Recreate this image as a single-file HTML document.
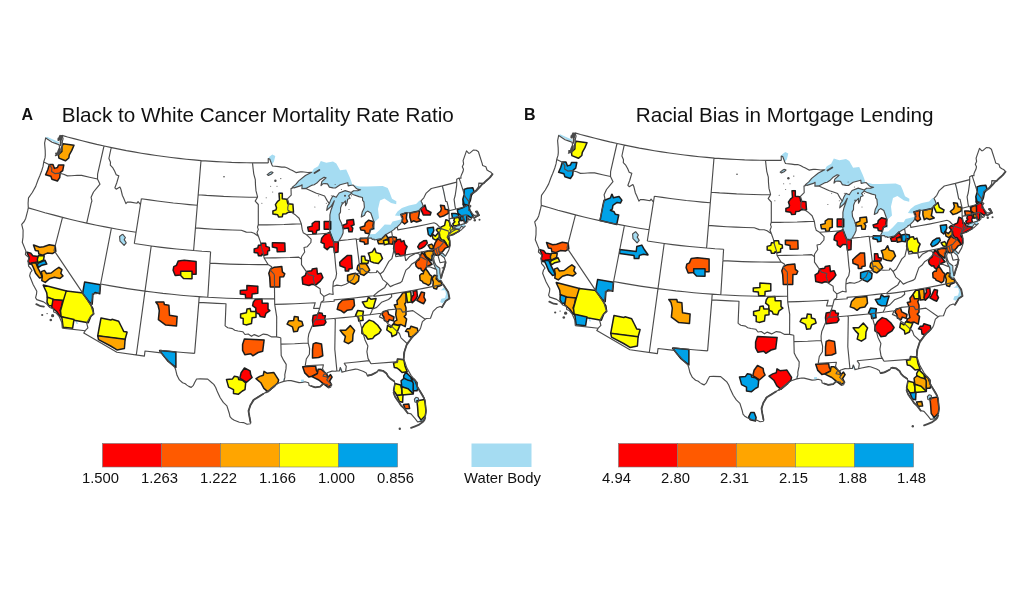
<!DOCTYPE html>
<html><head><meta charset="utf-8"><title>Maps</title>
<style>
html,body{margin:0;padding:0;background:#fff}
body{width:1024px;height:594px;overflow:hidden;font-family:"Liberation Sans",Arial,sans-serif}
svg{display:block}
.lg{font-size:14.8px;fill:#111}
.tt{font-size:20.7px;fill:#111}
.pl{font-size:16px;font-weight:bold;fill:#111}
.st{fill:none;stroke:#4c4c4c;stroke-width:1.15;stroke-linejoin:round}
.dk{fill:none;stroke:#484848;stroke-width:1.8;stroke-linejoin:round;stroke-linecap:round}
.mt path{stroke:#1c1c1c;stroke-width:1.5;stroke-linejoin:round}
</style></head><body>
<svg width="1024" height="594" viewBox="0 0 1024 594" font-family="Liberation Sans, Arial, sans-serif">
<rect width="1024" height="594" fill="#fff"/>
<defs>
<filter id="bl" x="0" y="0" width="1024" height="594" filterUnits="userSpaceOnUse"><feGaussianBlur stdDeviation="0.35"/></filter>
</defs>
<g filter="url(#bl)">
<path d="M292.4 187.1L295.8 184.4L298.7 180.9L305.4 175.5L311.7 172.3L313.8 168.7L318.2 166.2L320.8 160.9L326.3 162.7L333.0 161.5L336.3 163.4L340.1 170.3L346.2 169.6L349.4 176.5L351.1 180.8L352.5 185.2L351.3 185.3L348.2 185.9L347.8 182.7L340.1 184.7L335.4 188.0L333.0 187.9L329.4 187.1L327.5 183.9L325.1 183.6L322.8 183.8L321.0 185.6L321.8 181.6L326.1 177.8L324.1 177.2L319.7 180.1L316.8 183.1L314.1 184.8L312.3 185.1L305.8 188.4L301.9 188.6L302.1 184.7L300.2 185.9L294.0 187.9ZM351.2 192.5L345.2 190.6L339.1 193.0L337.0 196.0L336.3 197.2L332.8 195.9L330.9 199.4L329.3 203.6L327.5 206.0L326.7 210.3L331.2 206.2L334.3 200.8L332.7 205.5L330.8 210.8L329.9 214.9L329.9 218.9L329.1 226.9L330.3 233.1L332.5 239.9L334.2 242.4L335.4 242.6L338.7 241.2L341.6 236.5L343.1 233.0L343.2 228.6L341.6 223.6L339.5 219.1L339.1 214.4L340.5 212.1L340.6 207.8L341.8 204.6L345.5 200.8L345.5 205.7L347.0 202.9L347.7 199.2L350.1 198.3L348.6 195.9L351.3 193.5ZM351.3 193.5L353.5 194.7L359.0 196.6L362.5 197.5L362.6 200.3L363.9 201.9L364.4 207.3L363.7 209.1L362.2 212.1L361.3 216.9L364.5 215.2L365.6 212.5L367.6 211.1L370.8 213.0L372.4 217.5L374.1 222.4L379.0 218.0L378.0 209.0L380.0 200.5L384.4 198.5L391.1 203.0L396.2 204.2L396.4 201.3L392.0 198.8L389.5 192.0L387.7 187.9L382.7 185.9L367.4 186.6L359.4 186.6L353.6 185.1L353.2 185.1L355.6 187.7L357.3 189.1L360.6 189.8L357.6 190.8L353.6 190.7L351.2 192.5ZM373.9 226.8L371.4 228.9L371.2 230.3L375.0 230.1L374.8 227.3ZM367.5 238.1L371.5 238.1L372.3 239.5L374.0 239.0L374.3 240.0L378.6 239.1L382.6 238.2L385.7 234.8L389.4 232.5L391.3 231.4L394.9 228.9L397.3 226.9L400.3 223.8L402.2 221.1L403.2 218.8L399.9 219.8L392.6 221.6L390.6 224.8L384.7 224.6L379.6 230.0L375.2 234.1L370.1 234.3L369.6 233.8ZM400.9 214.9L405.3 212.8L412.8 212.6L417.6 211.5L421.2 208.5L423.3 206.5L422.2 203.3L421.0 200.9L419.5 200.4L416.1 204.0L408.9 205.4L401.9 207.9L397.5 211.5L394.9 215.5L399.2 215.9ZM122.6 234.1L119.6 236.5L120.0 241.2L124.1 245.4L126.2 242.8L124.2 239.6L125.4 237.5ZM442.7 185.8L444.0 191.3L444.6 197.0L445.7 201.4L444.2 197.1L443.3 191.5L442.1 186.0ZM416.2 397.2L418.3 398.0L418.8 400.8L417.6 402.7L414.9 402.0L414.4 399.2ZM268.2 158.6L269.7 159.0L271.8 164.5L273.9 161.7L275.3 156.1L272.3 154.5L269.3 156.7ZM317.4 373.2L320.8 372.4L323.3 373.9L321.0 376.0L317.5 376.0ZM441.1 280.1L438.4 280.7L438.3 280.1L436.8 277.5L436.9 273.4L436.7 270.2L435.6 268.6L434.1 264.7L432.1 258.5L431.3 256.0L434.3 251.3L434.8 253.5L433.6 258.4L434.5 262.3L436.1 265.5L439.8 268.2L439.9 272.8L440.9 278.2ZM444.3 257.8L441.0 255.1L438.9 252.0L438.5 249.8L439.3 251.4L442.9 253.5L445.4 256.1ZM447.5 292.2L448.8 298.3L444.8 301.5L442.3 303.2L440.2 301.9L441.4 298.7L445.0 297.9L446.0 294.2L445.2 290.3L440.5 290.2L438.0 291.8L442.1 289.2L444.0 287.1ZM450.7 230.6L454.1 228.0L456.3 226.3L462.7 224.1L464.7 223.6L465.3 226.1L463.6 227.4L461.5 226.2L459.6 229.0L455.4 229.8L452.3 231.4L450.5 233.0ZM279.6 192.4L281.6 192.3L281.7 194.6L279.3 194.6ZM273.3 381.0L274.8 383.3L273.9 385.0L272.4 383.3ZM340.0 367.5L341.0 367.4L342.3 371.3L340.4 371.7ZM283.1 378.6L284.6 378.6L283.7 380.8ZM324.3 374.4L326.9 375.4L325.5 377.2L323.0 376.2ZM320.9 382.0L322.8 381.3L323.5 383.5L321.5 384.2ZM301.0 379.7L303.9 379.5L304.0 381.8L301.1 381.9ZM397.3 391.6L398.8 391.4L397.9 395.5L396.8 395.1ZM45.7 137.9L50.7 140.3L55.5 142.9L58.9 143.8L59.3 142.2L54.7 140.3L47.0 136.8ZM425.5 412.7L426.4 412.6L426.2 416.6L425.0 416.8ZM418.9 420.0L423.4 418.7L423.7 420.4L420.8 422.0ZM271.4 171.8L273.0 172.6L271.1 174.2L268.4 175.4L267.2 174.6L269.1 173.1ZM74.6 319.5L76.3 320.4L78.1 323.7L76.6 324.0Z" fill="#a5dcf2"/>
<path d="M292.4 187.1L295.8 184.4L298.7 180.9L305.4 175.5L311.7 172.3L313.8 168.7L318.2 166.2L320.8 160.9L326.3 162.7L333.0 161.5L336.3 163.4L340.1 170.3L346.2 169.6L349.4 176.5L351.1 180.8L352.5 185.2L351.3 185.3L348.2 185.9L347.8 182.7L340.1 184.7L335.4 188.0L333.0 187.9L329.4 187.1L327.5 183.9L325.1 183.6L322.8 183.8L321.0 185.6L321.8 181.6L326.1 177.8L324.1 177.2L319.7 180.1L316.8 183.1L314.1 184.8L312.3 185.1L305.8 188.4L301.9 188.6L302.1 184.7L300.2 185.9L294.0 187.9ZM351.2 192.5L345.2 190.6L339.1 193.0L337.0 196.0L336.3 197.2L332.8 195.9L330.9 199.4L329.3 203.6L327.5 206.0L326.7 210.3L331.2 206.2L334.3 200.8L332.7 205.5L330.8 210.8L329.9 214.9L329.9 218.9L329.1 226.9L330.3 233.1L332.5 239.9L334.2 242.4L335.4 242.6L338.7 241.2L341.6 236.5L343.1 233.0L343.2 228.6L341.6 223.6L339.5 219.1L339.1 214.4L340.5 212.1L340.6 207.8L341.8 204.6L345.5 200.8L345.5 205.7L347.0 202.9L347.7 199.2L350.1 198.3L348.6 195.9L351.3 193.5ZM351.3 193.5L353.5 194.7L359.0 196.6L362.5 197.5L362.6 200.3L363.9 201.9L364.4 207.3L363.7 209.1L362.2 212.1L361.3 216.9L364.5 215.2L365.6 212.5L367.6 211.1L370.8 213.0L372.4 217.5L374.1 222.4L379.0 218.0L378.0 209.0L380.0 200.5L384.4 198.5L391.1 203.0L396.2 204.2L396.4 201.3L392.0 198.8L389.5 192.0L387.7 187.9L382.7 185.9L367.4 186.6L359.4 186.6L353.6 185.1L353.2 185.1L355.6 187.7L357.3 189.1L360.6 189.8L357.6 190.8L353.6 190.7L351.2 192.5ZM373.9 226.8L371.4 228.9L371.2 230.3L375.0 230.1L374.8 227.3ZM367.5 238.1L371.5 238.1L372.3 239.5L374.0 239.0L374.3 240.0L378.6 239.1L382.6 238.2L385.7 234.8L389.4 232.5L391.3 231.4L394.9 228.9L397.3 226.9L400.3 223.8L402.2 221.1L403.2 218.8L399.9 219.8L392.6 221.6L390.6 224.8L384.7 224.6L379.6 230.0L375.2 234.1L370.1 234.3L369.6 233.8ZM400.9 214.9L405.3 212.8L412.8 212.6L417.6 211.5L421.2 208.5L423.3 206.5L422.2 203.3L421.0 200.9L419.5 200.4L416.1 204.0L408.9 205.4L401.9 207.9L397.5 211.5L394.9 215.5L399.2 215.9ZM122.6 234.1L119.6 236.5L120.0 241.2L124.1 245.4L126.2 242.8L124.2 239.6L125.4 237.5ZM442.7 185.8L444.0 191.3L444.6 197.0L445.7 201.4L444.2 197.1L443.3 191.5L442.1 186.0ZM416.2 397.2L418.3 398.0L418.8 400.8L417.6 402.7L414.9 402.0L414.4 399.2ZM268.2 158.6L269.7 159.0L271.8 164.5L273.9 161.7L275.3 156.1L272.3 154.5L269.3 156.7ZM317.4 373.2L320.8 372.4L323.3 373.9L321.0 376.0L317.5 376.0ZM441.1 280.1L438.4 280.7L438.3 280.1L436.8 277.5L436.9 273.4L436.7 270.2L435.6 268.6L434.1 264.7L432.1 258.5L431.3 256.0L434.3 251.3L434.8 253.5L433.6 258.4L434.5 262.3L436.1 265.5L439.8 268.2L439.9 272.8L440.9 278.2ZM444.3 257.8L441.0 255.1L438.9 252.0L438.5 249.8L439.3 251.4L442.9 253.5L445.4 256.1ZM447.5 292.2L448.8 298.3L444.8 301.5L442.3 303.2L440.2 301.9L441.4 298.7L445.0 297.9L446.0 294.2L445.2 290.3L440.5 290.2L438.0 291.8L442.1 289.2L444.0 287.1ZM450.7 230.6L454.1 228.0L456.3 226.3L462.7 224.1L464.7 223.6L465.3 226.1L463.6 227.4L461.5 226.2L459.6 229.0L455.4 229.8L452.3 231.4L450.5 233.0ZM279.6 192.4L281.6 192.3L281.7 194.6L279.3 194.6ZM273.3 381.0L274.8 383.3L273.9 385.0L272.4 383.3ZM340.0 367.5L341.0 367.4L342.3 371.3L340.4 371.7ZM283.1 378.6L284.6 378.6L283.7 380.8ZM324.3 374.4L326.9 375.4L325.5 377.2L323.0 376.2ZM320.9 382.0L322.8 381.3L323.5 383.5L321.5 384.2ZM301.0 379.7L303.9 379.5L304.0 381.8L301.1 381.9ZM397.3 391.6L398.8 391.4L397.9 395.5L396.8 395.1ZM45.7 137.9L50.7 140.3L55.5 142.9L58.9 143.8L59.3 142.2L54.7 140.3L47.0 136.8ZM425.5 412.7L426.4 412.6L426.2 416.6L425.0 416.8ZM418.9 420.0L423.4 418.7L423.7 420.4L420.8 422.0ZM271.4 171.8L273.0 172.6L271.1 174.2L268.4 175.4L267.2 174.6L269.1 173.1ZM74.6 319.5L76.3 320.4L78.1 323.7L76.6 324.0Z" fill="#a5dcf2" transform="translate(513.0 -2.5)"/>
<g class="mt">
<path d="M63.1 143.7L61.9 147.1L61.9 151.5L58.4 154.6L58.9 158.1L65.4 160.8L68.8 158.0L69.3 154.9L71.8 150.4L74.0 145.3Z" fill="#ffa500"/>
<path d="M49.4 164.4L47.8 169.8L45.6 174.7L50.9 176.3L51.9 179.3L57.4 181.0L59.7 177.6L60.2 172.6L62.7 170.6L63.8 165.0L58.5 165.0L57.5 167.5L54.5 168.4L53.0 164.4Z" fill="#ff5a00"/>
<path d="M33.5 245.1L35.4 250.5L38.3 251.0L38.8 254.0L42.8 255.1L47.3 253.1L52.4 253.6L55.8 251.4L55.2 245.8L49.3 244.7L43.6 246.7L39.7 247.2L33.6 245.0Z" fill="#ffa500"/>
<path d="M26.9 252.2L29.2 257.7L28.2 261.3L30.0 264.3L32.8 262.7L37.5 262.1L38.1 256.4L32.8 255.8L30.8 253.3L27.0 252.1Z" fill="#ff0000"/>
<path d="M38.4 255.8L37.3 259.2L37.9 262.9L43.6 260.0L44.2 255.8Z" fill="#ffff00"/>
<path d="M38.4 263.0L37.2 264.8L38.5 267.4L41.9 265.2L46.8 264.1L44.9 260.2Z" fill="#00a2e8"/>
<path d="M31.0 262.9L33.3 267.5L35.8 273.6L39.6 277.9L42.3 277.2L40.1 272.2L38.0 268.2L35.9 262.9Z" fill="#ffa500"/>
<path d="M41.3 271.6L42.3 276.4L41.8 280.7L45.3 282.4L49.5 278.8L54.4 277.3L60.0 278.4L63.0 276.0L60.8 273.3L61.9 269.7L58.9 267.3L55.6 269.5L51.2 273.0L46.5 273.5L44.4 270.4Z" fill="#ffa500"/>
<path d="M43.2 285.2L46.7 292.7L47.3 297.3L53.3 300.0L64.4 300.6L66.5 291.1L43.3 285.1Z" fill="#ffff00"/>
<path d="M47.3 297.1L47.0 302.2L48.7 305.7L52.5 305.7L53.2 299.3Z" fill="#ffff00"/>
<path d="M53.0 299.5L51.7 307.3L56.8 311.8L60.3 316.7L62.0 314.1L60.1 310.3L61.3 307.3L62.7 300.5Z" fill="#ff0000"/>
<path d="M66.3 290.9L63.1 301.4L60.5 310.9L61.2 316.9L74.1 320.2L88.3 322.7L90.9 316.2L93.6 313.6L92.9 308.3L83.3 292.9Z" fill="#ffff00"/>
<path d="M61.7 316.7L62.4 321.7L63.1 327.3L72.6 328.2L74.0 319.5Z" fill="#ffff00"/>
<path d="M84.6 282.1L82.6 293.4L89.1 301.8L92.2 304.1L92.2 304.1L92.9 294.7L95.1 292.4L99.8 293.8L100.5 284.7Z" fill="#00a2e8"/>
<path d="M101.0 318.0L97.7 335.9L125.0 339.8L127.1 332.1L123.7 331.4L121.3 326.5L118.7 321.3L112.0 319.3L110.8 320.0Z" fill="#ffff00"/>
<path d="M97.7 335.7L98.5 339.6L110.6 346.0L117.0 349.9L124.4 348.5L125.1 339.2Z" fill="#ffa500"/>
<path d="M178.3 260.9L176.4 265.4L173.8 266.7L173.1 270.2L175.2 275.6L180.8 274.9L181.5 271.8L191.5 271.8L191.5 274.3L196.1 274.3L196.1 261.6L184.3 260.3Z" fill="#ff0000"/>
<path d="M180.7 271.3L180.7 275.4L183.5 278.4L192.0 278.8L192.0 271.3Z" fill="#ffff00"/>
<path d="M155.8 302.0L158.0 305.0L159.3 310.6L158.4 319.6L165.8 325.1L176.5 325.9L177.1 316.5L169.5 315.3L168.9 305.2L164.4 304.5L163.8 301.9L155.8 301.9Z" fill="#ff5a00"/>
<path d="M159.6 350.7L167.6 360.9L175.8 367.4L175.9 367.4L175.9 351.9L159.7 350.6Z" fill="#00a2e8"/>
<path d="M274.4 267.2L270.4 269.2L268.8 273.3L269.7 277.2L270.3 287.0L279.7 287.0L279.9 277.1L283.6 276.8L284.8 273.8L282.4 271.8L281.8 266.6Z" fill="#ff5a00"/>
<path d="M246.9 285.5L246.9 290.0L240.3 290.6L240.3 293.9L245.3 294.5L245.7 298.3L251.9 298.3L252.1 293.9L257.8 293.2L257.8 286.2Z" fill="#ff0000"/>
<path d="M255.3 299.4L253.3 302.2L252.6 305.7L255.8 308.2L255.8 312.7L259.1 314.0L260.3 316.6L264.7 317.3L266.0 313.3L269.9 310.6L268.0 309.1L268.0 303.2L262.2 303.2L262.0 299.0Z" fill="#ff0000"/>
<path d="M247.0 308.9L246.4 312.7L240.6 314.0L240.6 317.8L243.2 318.4L243.2 324.1L246.1 324.9L251.5 323.5L252.1 317.8L256.0 317.2L256.0 311.4L250.8 311.4L250.2 308.6Z" fill="#ffff00"/>
<path d="M244.4 339.1L242.6 344.5L242.6 350.3L244.8 354.7L250.8 353.8L252.8 355.8L258.1 352.5L262.7 351.2L264.1 340.0Z" fill="#ff5a00"/>
<path d="M244.5 368.0L241.1 372.8L239.8 378.2L246.6 382.3L252.1 377.5L250.7 374.7L250.1 370.8Z" fill="#ff0000"/>
<path d="M234.4 376.3L232.5 378.9L226.5 379.6L228.6 387.1L233.5 389.6L233.5 393.5L238.5 394.2L242.4 391.0L245.0 389.7L245.7 382.9L242.3 380.2L238.7 379.6L238.1 377.1Z" fill="#ffff00"/>
<path d="M264.0 371.3L263.3 375.2L259.7 376.4L256.0 378.6L260.8 382.7L263.9 388.4L268.0 391.8L275.3 385.3L277.9 382.7L278.6 379.9L273.9 372.6L266.9 373.2Z" fill="#ffa500"/>
<path d="M294.3 316.6L293.6 320.5L288.7 321.1L287.1 324.2L292.4 326.8L293.7 331.8L297.4 331.3L298.7 327.4L303.1 325.5L301.9 321.4L298.4 320.5L298.2 317.1Z" fill="#ffa500"/>
<path d="M313.2 315.4L312.5 320.2L313.2 326.3L323.9 325.0L326.0 322.2L324.7 318.9L325.4 315.8L322.7 315.4L322.1 313.3L318.4 312.8L317.1 314.8Z" fill="#ff0000"/>
<path d="M313.2 343.9L312.5 349.9L312.5 357.9L318.7 357.5L322.8 355.8L322.2 349.8L321.5 343.9L316.0 342.8Z" fill="#ff5a00"/>
<path d="M302.7 366.7L304.8 372.9L308.8 376.9L312.2 376.3L318.4 373.5L316.3 370.1L315.6 366.0Z" fill="#ff5a00"/>
<path d="M318.1 369.2L317.4 373.5L311.9 376.5L311.9 376.6L318.8 380.0L322.6 383.1L327.9 387.1L331.6 384.9L329.6 381.0L332.1 377.1L330.5 374.6L327.5 377.6L327.0 374.4L321.1 369.2Z" fill="#ff5a00"/>
<path d="M397.5 359.0L396.8 362.3L393.5 362.9L394.3 367.4L397.0 368.0L399.4 369.9L402.1 372.5L407.2 371.8L405.1 366.3L403.8 359.7Z" fill="#ffff00"/>
<path d="M405.9 372.1L403.7 375.8L403.7 378.6L407.1 380.7L411.3 381.4L412.1 378.3Z" fill="#00a2e8"/>
<path d="M404.0 378.3L401.1 380.8L401.8 386.9L408.3 389.5L413.2 393.7L413.3 393.6L414.0 382.9L411.2 380.9L407.4 379.9Z" fill="#00a2e8"/>
<path d="M411.0 378.3L413.2 383.2L413.2 390.8L417.0 390.8L417.8 387.9L415.2 380.7L411.3 378.1Z" fill="#00a2e8"/>
<path d="M394.9 383.6L393.6 390.5L396.9 395.2L402.0 395.2L402.0 390.4L400.6 385.0Z" fill="#ffff00"/>
<path d="M401.8 386.7L402.2 394.9L413.0 393.9L413.1 393.8L408.1 388.8Z" fill="#ffff00"/>
<path d="M397.0 395.4L399.4 401.5L402.6 402.3L403.0 394.8Z" fill="#ffff00"/>
<path d="M403.5 404.6L405.1 408.8L409.6 408.5L408.8 404.1Z" fill="#ff5a00"/>
<path d="M416.9 400.8L417.6 406.9L418.2 415.8L421.1 420.1L425.3 415.8L426.0 410.6L424.6 399.4Z" fill="#ffff00"/>
<path d="M342.5 299.9L338.6 303.9L337.2 309.4L341.3 310.8L344.0 312.8L347.3 310.2L351.8 309.5L354.5 305.5L353.8 298.9Z" fill="#ff5a00"/>
<path d="M368.4 297.1L367.0 301.2L362.3 301.9L365.2 306.9L368.5 308.3L373.3 308.3L374.7 302.9L376.1 298.6L371.2 299.3Z" fill="#ffff00"/>
<path d="M357.6 310.6L355.5 315.6L358.1 317.0L358.8 321.0L363.1 320.2L362.7 316.1L363.4 311.3Z" fill="#ffff00"/>
<path d="M369.2 320.1L364.5 324.0L361.9 328.6L361.9 333.3L365.8 335.9L367.8 339.2L372.6 338.6L374.6 336.0L379.0 333.4L381.1 330.0L377.7 325.3L373.2 321.4Z" fill="#ffff00"/>
<path d="M350.3 325.6L345.7 330.2L340.1 330.2L340.1 330.3L342.4 333.4L345.4 336.4L344.2 341.6L348.4 343.7L352.6 340.9L353.0 334.5L354.6 330.5Z" fill="#ffa500"/>
<path d="M383.1 311.8L382.1 314.7L383.7 316.7L384.4 320.6L388.1 322.1L389.3 319.6L393.2 320.9L394.0 317.0L388.8 314.4L387.5 310.4Z" fill="#ff5a00"/>
<path d="M400.2 296.8L396.9 300.7L397.5 304.3L394.3 304.9L396.3 309.7L395.7 314.7L396.9 320.1L394.5 321.3L393.7 323.7L397.3 325.2L401.1 324.6L405.2 326.6L406.6 319.0L404.2 316.6L406.0 314.8L406.0 307.7L404.7 304.0L406.0 302.2L406.0 292.8L402.8 292.8Z" fill="#ffa500"/>
<path d="M387.6 325.4L386.8 330.0L391.3 333.2L392.0 336.7L396.4 334.5L397.7 330.6L399.8 325.7L392.7 324.3L390.9 327.4Z" fill="#ffff00"/>
<path d="M411.0 326.2L409.7 328.8L407.2 328.8L405.5 331.3L408.4 332.0L409.0 336.5L412.0 337.2L415.3 334.5L418.0 331.8L417.3 328.3Z" fill="#ffa500"/>
<path d="M396.8 239.8L394.2 243.5L393.6 248.8L395.8 254.2L398.5 253.7L400.5 255.7L405.0 255.2L405.5 250.4L407.1 246.6L405.0 244.5L403.9 240.6L401.3 241.7L400.4 239.2Z" fill="#ff0000"/>
<path d="M400.8 214.4L402.6 217.2L402.1 221.7L404.6 224.0L407.6 221.7L406.3 218.4L407.0 212.8Z" fill="#ff5a00"/>
<path d="M409.9 213.0L409.9 217.2L411.3 222.2L413.5 220.8L416.6 222.0L421.2 220.5L421.2 220.4L418.3 218.2L418.9 215.3L419.6 211.0L415.3 211.7Z" fill="#ff5a00"/>
<path d="M420.5 208.8L421.9 211.6L423.3 215.0L430.2 215.0L431.0 212.5L426.4 209.9L425.0 205.1Z" fill="#ff0000"/>
<path d="M440.4 205.3L441.4 208.8L440.6 211.2L437.3 214.0L439.9 217.1L444.2 215.7L448.3 213.4L448.3 209.8L445.2 209.3L444.3 205.8Z" fill="#ff5a00"/>
<path d="M315.0 221.5L312.2 223.6L312.2 226.1L307.7 227.3L308.5 231.2L312.3 231.2L312.9 233.7L316.1 233.7L316.8 230.5L319.3 229.8L319.3 221.5Z" fill="#ff0000"/>
<path d="M324.2 221.5L324.2 229.3L330.7 229.3L330.7 221.5Z" fill="#ff0000"/>
<path d="M327.0 233.6L324.4 234.9L321.7 238.2L321.0 242.4L324.2 243.7L324.2 247.4L327.2 249.6L329.8 247.0L333.7 247.0L334.4 252.7L338.0 251.9L338.3 242.4L333.7 241.8L329.9 232.1Z" fill="#ff0000"/>
<path d="M346.9 220.3L346.9 223.6L342.5 225.5L343.3 228.7L348.3 228.1L348.9 231.8L352.1 231.8L352.8 228.2L351.1 225.9L354.1 224.7L353.4 219.6Z" fill="#ff0000"/>
<path d="M368.7 220.2L365.3 223.0L364.7 226.0L360.1 227.4L360.9 229.9L364.7 230.5L365.3 233.0L369.1 233.8L370.4 229.8L373.7 228.5L373.0 225.7L373.7 221.7Z" fill="#ff5a00"/>
<path d="M360.3 238.3L359.9 241.2L364.1 241.9L364.7 244.2L368.0 243.8L368.0 238.3Z" fill="#ff5a00"/>
<path d="M385.9 234.6L381.2 239.3L377.5 240.6L378.6 243.8L382.9 243.8L384.9 240.5L388.3 238.5Z" fill="#ffa500"/>
<path d="M383.5 240.6L384.3 244.8L388.9 243.7L388.1 239.8Z" fill="#ffff00"/>
<path d="M388.6 237.4L389.0 243.8L392.5 244.2L393.1 241.3L396.4 241.3L396.4 237.4L392.8 236.7Z" fill="#ff5a00"/>
<path d="M347.2 255.6L343.3 258.9L339.7 262.2L340.0 265.8L345.1 267.7L345.3 271.0L348.6 271.0L349.0 269.0L352.2 268.4L351.5 255.6Z" fill="#ff0000"/>
<path d="M374.5 248.3L372.3 251.9L368.3 253.3L369.7 256.8L370.3 261.4L373.8 262.7L378.4 263.4L382.5 258.6L380.5 253.8L376.1 252.6L374.7 248.3Z" fill="#ffff00"/>
<path d="M361.5 256.3L361.5 263.1L367.8 263.4L368.7 260.8L365.4 260.1L364.7 256.3Z" fill="#ffff00"/>
<path d="M359.8 263.8L357.7 265.9L357.0 269.4L359.0 271.4L360.3 274.0L363.8 275.4L367.2 272.7L369.7 270.0L367.9 266.6L365.9 263.8Z" fill="#ffa500"/>
<path d="M347.6 275.3L347.6 280.9L351.0 282.9L354.4 284.3L358.5 280.9L359.1 276.1L355.7 273.3L351.7 274.0Z" fill="#ffa500"/>
<path d="M306.6 271.5L305.3 275.3L302.1 277.3L302.8 284.1L308.9 285.5L312.0 284.2L315.9 284.9L320.5 280.9L322.9 277.5L321.1 273.3L317.4 273.9L316.8 268.2L312.3 268.9L311.7 270.8Z" fill="#ff0000"/>
<path d="M279.0 193.2L279.5 200.0L277.6 201.4L275.4 204.6L276.5 207.8L276.0 209.9L272.9 211.0L272.9 214.1L277.6 214.7L278.6 216.9L282.3 216.7L282.8 214.1L286.1 213.7L288.6 212.2L293.5 212.2L292.9 204.3L287.8 203.8L286.8 199.3L282.3 198.8L282.3 193.2Z" fill="#ffff00"/>
<path d="M261.4 243.3L260.9 245.3L258.4 245.3L257.8 247.9L254.2 248.9L254.2 252.6L257.8 253.1L258.4 255.7L261.5 255.7L262.0 254.3L264.2 255.2L267.5 254.6L267.7 251.1L269.5 250.5L269.2 247.4L266.1 246.4L265.6 243.3Z" fill="#ff0000"/>
<path d="M272.4 242.8L272.4 247.0L277.0 248.1L277.2 251.7L285.1 251.4L284.8 243.0Z" fill="#ff0000"/>
<path d="M463.3 199.7L463.0 204.4L464.1 206.7L467.1 205.3L468.6 203.0L466.4 200.9Z" fill="#00a2e8"/>
<path d="M462.9 207.7L460.4 208.6L457.3 209.7L458.0 213.3L460.3 215.2L462.7 216.4L463.3 218.1L464.3 222.0L466.1 223.0L466.9 219.3L466.6 216.9L467.5 215.5L471.2 217.9L472.9 216.2L471.5 213.5L470.3 211.0L469.4 208.6L468.7 205.1L466.0 205.8Z" fill="#00a2e8"/>
<path d="M451.7 213.6L452.5 218.1L456.0 217.8L458.8 217.1L458.4 214.3L455.3 213.6Z" fill="#00a2e8"/>
<path d="M460.4 216.4L460.8 220.7L463.5 220.2L463.1 216.4Z" fill="#00a2e8"/>
<path d="M427.3 228.0L428.3 234.5L430.7 236.5L432.5 233.6L433.8 230.6L433.4 227.3Z" fill="#00a2e8"/>
<path d="M431.9 234.0L433.0 238.6L435.9 240.1L439.0 237.7L440.8 234.1L437.9 233.2L435.2 236.2L432.1 233.9Z" fill="#ffff00"/>
<path d="M454.6 218.1L453.8 220.7L454.9 221.8L452.8 223.9L453.7 226.0L456.8 225.4L459.4 224.6L458.7 221.9L459.7 220.4L458.9 217.3Z" fill="#ffff00"/>
<path d="M445.9 219.8L445.1 223.0L444.6 225.3L440.8 227.2L440.8 228.8L437.9 228.3L436.3 229.9L439.5 233.8L439.8 236.9L441.5 239.6L444.0 240.3L445.8 242.6L447.5 247.3L449.3 246.4L449.7 241.0L448.1 238.5L447.8 236.4L449.4 235.9L453.8 234.0L459.4 231.1L458.9 229.6L453.3 228.7L452.7 226.9L451.2 225.4L450.2 226.1L449.7 223.0L448.6 220.6Z" fill="#ffff00"/>
<path d="M437.9 238.7L435.2 242.8L433.6 247.3L433.9 252.5L436.0 255.3L438.8 255.3L441.5 252.6L443.3 250.8L445.2 248.3L447.9 246.9L447.1 245.3L445.2 242.7L442.6 241.4L440.1 240.2Z" fill="#ff5a00"/>
<path d="M428.1 245.3L430.0 248.3L433.2 249.5L433.2 246.0L431.7 244.1Z" fill="#ffa500"/>
<path d="M419.7 243.4L417.7 246.8L419.2 249.1L421.4 248.4L424.6 246.4L427.3 243.1L426.5 240.4L423.6 240.8Z" fill="#ff0000"/>
<path d="M464.0 189.4L464.3 194.2L462.8 199.3L464.1 204.2L468.2 205.3L470.4 200.4L471.4 195.4L474.0 191.3L472.8 187.8L467.4 188.3Z" fill="#00a2e8"/>
<path d="M424.1 252.4L426.2 256.7L428.9 258.7L431.3 260.6L432.2 256.2L433.8 253.8L432.9 251.1L428.7 250.7Z" fill="#ffa500"/>
<path d="M421.8 252.3L420.1 256.7L419.0 259.6L416.7 261.1L415.5 263.6L416.3 266.5L418.8 268.6L420.9 268.3L421.2 269.9L423.6 271.8L425.3 269.1L426.8 266.6L429.3 265.5L432.1 264.2L430.2 261.9L428.3 259.6L425.7 257.3L424.6 255.1Z" fill="#ff5a00"/>
<path d="M425.8 268.7L423.9 271.0L423.2 273.8L421.4 273.8L419.7 275.6L420.1 280.2L422.4 281.4L423.2 282.9L425.6 283.7L428.4 285.3L430.7 283.5L431.1 280.0L431.9 276.4L429.8 274.7L428.0 271.7Z" fill="#ffa500"/>
<path d="M434.3 275.3L432.1 278.3L433.3 281.9L432.9 285.7L433.8 288.2L436.6 289.1L437.4 286.7L439.5 286.0L441.7 285.1L441.3 281.9L438.8 281.4L437.4 280.0L436.1 279.0L436.9 275.8Z" fill="#ffa500"/>
<path d="M405.9 292.2L407.5 302.6L411.6 302.0L410.8 291.6Z" fill="#ffff00"/>
<path d="M413.0 291.2L413.5 295.0L412.1 296.4L411.0 300.2L412.3 302.8L415.8 299.4L417.4 296.2L416.8 290.6Z" fill="#ff0000"/>
<path d="M421.3 292.1L419.1 296.9L416.9 300.3L420.8 302.5L423.7 303.7L425.5 300.2L423.9 297.1L424.5 292.8Z" fill="#ff5a00"/>

</g>
<g class="mt">
<path d="M576.1 141.2L574.9 144.6L574.9 149.0L571.4 152.1L571.9 155.6L578.4 158.3L581.8 155.5L582.3 152.4L584.8 147.9L587.0 142.8Z" fill="#ffff00"/>
<path d="M562.4 161.9L560.8 167.3L558.6 172.2L563.9 173.8L564.9 176.8L570.4 178.5L572.7 175.1L573.2 170.1L575.7 168.1L576.8 162.5L571.5 162.5L570.5 165.0L567.5 165.9L566.0 161.9Z" fill="#00a2e8"/>
<path d="M546.5 242.6L548.4 248.0L551.3 248.5L551.8 251.5L555.8 252.6L560.3 250.6L565.4 251.1L568.8 248.9L568.2 243.3L562.3 242.2L556.6 244.2L552.7 244.7L546.6 242.5Z" fill="#ff5a00"/>
<path d="M539.9 249.7L542.2 255.2L541.2 258.8L543.0 261.8L545.8 260.2L550.5 259.6L551.1 253.9L545.8 253.3L543.8 250.8L540.0 249.6Z" fill="#ff0000"/>
<path d="M551.4 253.3L550.3 256.7L550.9 260.4L556.6 257.5L557.2 253.3Z" fill="#ffa500"/>
<path d="M551.4 260.5L550.2 262.3L551.5 264.9L554.9 262.7L559.8 261.6L557.9 257.7Z" fill="#ffff00"/>
<path d="M544.0 260.4L546.3 265.0L548.8 271.1L552.6 275.4L555.3 274.7L553.1 269.7L551.0 265.7L548.9 260.4Z" fill="#00a2e8"/>
<path d="M554.3 269.1L555.3 273.9L554.8 278.2L558.3 279.9L562.5 276.3L567.4 274.8L573.0 275.9L576.0 273.5L573.8 270.8L574.9 267.2L571.9 264.8L568.6 267.0L564.2 270.5L559.5 271.0L557.4 267.9Z" fill="#ffa500"/>
<path d="M556.2 282.7L559.7 290.2L560.3 294.8L566.3 297.5L577.4 298.1L579.5 288.6L556.3 282.6Z" fill="#ffa500"/>
<path d="M560.3 294.6L560.0 299.7L561.7 303.2L565.5 303.2L566.2 296.8Z" fill="#00a2e8"/>
<path d="M566.0 297.0L564.7 304.8L569.8 309.3L573.3 314.2L575.0 311.6L573.1 307.8L574.3 304.8L575.7 298.0Z" fill="#ffa500"/>
<path d="M579.3 288.4L576.1 298.9L573.5 308.4L574.2 314.4L587.1 317.7L601.3 320.2L603.9 313.7L606.6 311.1L605.9 305.8L596.3 290.4Z" fill="#ffff00"/>
<path d="M574.7 314.2L575.4 319.2L576.1 324.8L585.6 325.7L587.0 317.0Z" fill="#00a2e8"/>
<path d="M597.6 279.6L595.6 290.9L602.1 299.3L605.2 301.6L605.2 301.6L605.9 292.2L608.1 289.9L612.8 291.3L613.5 282.2Z" fill="#00a2e8"/>
<path d="M614.0 315.5L610.7 333.4L638.0 337.3L640.1 329.6L636.7 328.9L634.3 324.0L631.7 318.8L625.0 316.8L623.8 317.5Z" fill="#ffff00"/>
<path d="M610.7 333.2L611.5 337.1L623.6 343.5L630.0 347.4L637.4 346.0L638.1 336.7Z" fill="#ffff00"/>
<path d="M691.3 258.4L689.4 262.9L686.8 264.2L686.1 267.7L688.2 273.1L693.8 272.4L694.5 269.3L704.5 269.3L704.5 271.8L709.1 271.8L709.1 259.1L697.3 257.8Z" fill="#ff5a00"/>
<path d="M693.7 268.8L693.7 272.9L696.5 275.9L705.0 276.3L705.0 268.8Z" fill="#00a2e8"/>
<path d="M668.8 299.5L671.0 302.5L672.3 308.1L671.4 317.1L678.8 322.6L689.5 323.4L690.1 314.0L682.5 312.8L681.9 302.7L677.4 302.0L676.8 299.4L668.8 299.4Z" fill="#ffa500"/>
<path d="M672.6 348.2L680.6 358.4L688.8 364.9L688.9 364.9L688.9 349.4L672.7 348.1Z" fill="#00a2e8"/>
<path d="M787.4 264.7L783.4 266.7L781.8 270.8L782.7 274.7L783.3 284.5L792.7 284.5L792.9 274.6L796.6 274.3L797.8 271.3L795.4 269.3L794.8 264.1Z" fill="#ff5a00"/>
<path d="M759.9 283.0L759.9 287.5L753.3 288.1L753.3 291.4L758.3 292.0L758.7 295.8L764.9 295.8L765.1 291.4L770.8 290.7L770.8 283.7Z" fill="#ffff00"/>
<path d="M768.3 296.9L766.3 299.7L765.6 303.2L768.8 305.7L768.8 310.2L772.1 311.5L773.3 314.1L777.7 314.8L779.0 310.8L782.9 308.1L781.0 306.6L781.0 300.7L775.2 300.7L775.0 296.5Z" fill="#ffff00"/>
<path d="M760.0 306.4L759.4 310.2L753.6 311.5L753.6 315.3L756.2 315.9L756.2 321.6L759.1 322.4L764.5 321.0L765.1 315.3L769.0 314.7L769.0 308.9L763.8 308.9L763.2 306.1Z" fill="#ffff00"/>
<path d="M757.4 336.6L755.6 342.0L755.6 347.8L757.8 352.2L763.8 351.3L765.8 353.3L771.1 350.0L775.7 348.7L777.1 337.5Z" fill="#ff0000"/>
<path d="M757.5 365.5L754.1 370.3L752.8 375.7L759.6 379.8L765.1 375.0L763.7 372.2L763.1 368.3Z" fill="#ff5a00"/>
<path d="M747.4 373.8L745.5 376.4L739.5 377.1L741.6 384.6L746.5 387.1L746.5 391.0L751.5 391.7L755.4 388.5L758.0 387.2L758.7 380.4L755.3 377.7L751.7 377.1L751.1 374.6Z" fill="#00a2e8"/>
<path d="M777.0 368.8L776.3 372.7L772.7 373.9L769.0 376.1L773.8 380.2L776.9 385.9L781.0 389.3L788.3 382.8L790.9 380.2L791.6 377.4L786.9 370.1L779.9 370.7Z" fill="#ff0000"/>
<path d="M807.3 314.1L806.6 318.0L801.7 318.6L800.1 321.7L805.4 324.3L806.7 329.3L810.4 328.8L811.7 324.9L816.1 323.0L814.9 318.9L811.4 318.0L811.2 314.6Z" fill="#ffff00"/>
<path d="M826.2 312.9L825.5 317.7L826.2 323.8L836.9 322.5L839.0 319.7L837.7 316.4L838.4 313.3L835.7 312.9L835.1 310.8L831.4 310.3L830.1 312.3Z" fill="#ff0000"/>
<path d="M826.2 341.4L825.5 347.4L825.5 355.4L831.7 355.0L835.8 353.3L835.2 347.3L834.5 341.4L829.0 340.3Z" fill="#ff5a00"/>
<path d="M815.7 364.2L817.8 370.4L821.8 374.4L825.2 373.8L831.4 371.0L829.3 367.6L828.6 363.5Z" fill="#ff5a00"/>
<path d="M831.1 366.7L830.4 371.0L824.9 374.0L824.9 374.1L831.8 377.5L835.6 380.6L840.9 384.6L844.6 382.4L842.6 378.5L845.1 374.6L843.5 372.1L840.5 375.1L840.0 371.9L834.1 366.7Z" fill="#ffa500"/>
<path d="M910.5 356.5L909.8 359.8L906.5 360.4L907.3 364.9L910.0 365.5L912.4 367.4L915.1 370.0L920.2 369.3L918.1 363.8L916.8 357.2Z" fill="#ffff00"/>
<path d="M918.9 369.6L916.7 373.3L916.7 376.1L920.1 378.2L924.3 378.9L925.1 375.8Z" fill="#ffff00"/>
<path d="M917.0 375.8L914.1 378.3L914.8 384.4L921.3 387.0L926.2 391.2L926.3 391.1L927.0 380.4L924.2 378.4L920.4 377.4Z" fill="#ffa500"/>
<path d="M924.0 375.8L926.2 380.7L926.2 388.3L930.0 388.3L930.8 385.4L928.2 378.2L924.3 375.6Z" fill="#ffa500"/>
<path d="M907.9 381.1L906.6 388.0L909.9 392.7L915.0 392.7L915.0 387.9L913.6 382.5Z" fill="#ffff00"/>
<path d="M914.8 384.2L915.2 392.4L926.0 391.4L926.1 391.3L921.1 386.3Z" fill="#ffff00"/>
<path d="M910.0 392.9L912.4 399.0L915.6 399.8L916.0 392.3Z" fill="#00a2e8"/>
<path d="M916.5 402.1L918.1 406.3L922.6 406.0L921.8 401.6Z" fill="#ffa500"/>
<path d="M929.9 398.3L930.6 404.4L931.2 413.3L934.1 417.6L938.3 413.3L939.0 408.1L937.6 396.9Z" fill="#ff5a00"/>
<path d="M855.5 297.4L851.6 301.4L850.2 306.9L854.3 308.3L857.0 310.3L860.3 307.7L864.8 307.0L867.5 303.0L866.8 296.4Z" fill="#ffa500"/>
<path d="M881.4 294.6L880.0 298.7L875.3 299.4L878.2 304.4L881.5 305.8L886.3 305.8L887.7 300.4L889.1 296.1L884.2 296.8Z" fill="#00a2e8"/>
<path d="M870.6 308.1L868.5 313.1L871.1 314.5L871.8 318.5L876.1 317.7L875.7 313.6L876.4 308.8Z" fill="#00a2e8"/>
<path d="M882.2 317.6L877.5 321.5L874.9 326.1L874.9 330.8L878.8 333.4L880.8 336.7L885.6 336.1L887.6 333.5L892.0 330.9L894.1 327.5L890.7 322.8L886.2 318.9Z" fill="#ff0000"/>
<path d="M863.3 323.1L858.7 327.7L853.1 327.7L853.1 327.8L855.4 330.9L858.4 333.9L857.2 339.1L861.4 341.2L865.6 338.4L866.0 332.0L867.6 328.0Z" fill="#ffff00"/>
<path d="M896.1 309.3L895.1 312.2L896.7 314.2L897.4 318.1L901.1 319.6L902.3 317.1L906.2 318.4L907.0 314.5L901.8 311.9L900.5 307.9Z" fill="#ff5a00"/>
<path d="M913.2 294.3L909.9 298.2L910.5 301.8L907.3 302.4L909.3 307.2L908.7 312.2L909.9 317.6L907.5 318.8L906.7 321.2L910.3 322.7L914.1 322.1L918.2 324.1L919.6 316.5L917.2 314.1L919.0 312.3L919.0 305.2L917.7 301.5L919.0 299.7L919.0 290.3L915.8 290.3Z" fill="#ff5a00"/>
<path d="M913.1 294.4L914.5 298.7L919.0 298.7L919.0 290.3L915.8 290.3Z" fill="#ffff00"/>
<path d="M900.6 322.9L899.8 327.5L904.3 330.7L905.0 334.2L909.4 332.0L910.7 328.1L912.8 323.2L905.7 321.8L903.9 324.9Z" fill="#ffff00"/>
<path d="M924.0 323.7L922.7 326.3L920.2 326.3L918.5 328.8L921.4 329.5L922.0 334.0L925.0 334.7L928.3 332.0L931.0 329.3L930.3 325.8Z" fill="#ff0000"/>
<path d="M909.8 237.3L907.2 241.0L906.6 246.3L908.8 251.7L911.5 251.2L913.5 253.2L918.0 252.7L918.5 247.9L920.1 244.1L918.0 242.0L916.9 238.1L914.3 239.2L913.4 236.7Z" fill="#ffff00"/>
<path d="M913.8 211.9L915.6 214.7L915.1 219.2L917.6 221.5L920.6 219.2L919.3 215.9L920.0 210.3Z" fill="#ff5a00"/>
<path d="M922.9 210.5L922.9 214.7L924.3 219.7L926.5 218.3L929.6 219.5L934.2 218.0L934.2 217.9L931.3 215.7L931.9 212.8L932.6 208.5L928.3 209.2Z" fill="#ffa500"/>
<path d="M933.5 206.3L934.9 209.1L936.3 212.5L943.2 212.5L944.0 210.0L939.4 207.4L938.0 202.6Z" fill="#ffff00"/>
<path d="M953.4 202.8L954.4 206.3L953.6 208.7L950.3 211.5L952.9 214.6L957.2 213.2L961.3 210.9L961.3 207.3L958.2 206.8L957.3 203.3Z" fill="#ffa500"/>
<path d="M828.0 219.0L825.2 221.1L825.2 223.6L820.7 224.8L821.5 228.7L825.3 228.7L825.9 231.2L829.1 231.2L829.8 228.0L832.3 227.3L832.3 219.0Z" fill="#ffa500"/>
<path d="M837.2 219.0L837.2 226.8L843.7 226.8L843.7 219.0Z" fill="#ff0000"/>
<path d="M840.0 231.1L837.4 232.4L834.7 235.7L834.0 239.9L837.2 241.2L837.2 244.9L840.2 247.1L842.8 244.5L846.7 244.5L847.4 250.2L851.0 249.4L851.3 239.9L846.7 239.3L842.9 229.6Z" fill="#ff0000"/>
<path d="M859.9 217.8L859.9 221.1L855.5 223.0L856.3 226.2L861.3 225.6L861.9 229.3L865.1 229.3L865.8 225.7L864.1 223.4L867.1 222.2L866.4 217.1Z" fill="#ffa500"/>
<path d="M881.7 217.7L878.3 220.5L877.7 223.5L873.1 224.9L873.9 227.4L877.7 228.0L878.3 230.5L882.1 231.3L883.4 227.3L886.7 226.0L886.0 223.2L886.7 219.2Z" fill="#ff0000"/>
<path d="M873.3 235.8L872.9 238.7L877.1 239.4L877.7 241.7L881.0 241.3L881.0 235.8Z" fill="#00a2e8"/>
<path d="M898.9 232.1L894.2 236.8L890.5 238.1L891.6 241.3L895.9 241.3L897.9 238.0L901.3 236.0Z" fill="#ff0000"/>
<path d="M896.5 238.1L897.3 242.3L901.9 241.2L901.1 237.3Z" fill="#ff5a00"/>
<path d="M901.6 234.9L902.0 241.3L905.5 241.7L906.1 238.8L909.4 238.8L909.4 234.9L905.8 234.2Z" fill="#00a2e8"/>
<path d="M860.2 253.1L856.3 256.4L852.7 259.7L853.0 263.3L858.1 265.2L858.3 268.5L861.6 268.5L862.0 266.5L865.2 265.9L864.5 253.1Z" fill="#ff5a00"/>
<path d="M887.5 245.8L885.3 249.4L881.3 250.8L882.7 254.3L883.3 258.9L886.8 260.2L891.4 260.9L895.5 256.1L893.5 251.3L889.1 250.1L887.7 245.8Z" fill="#ffa500"/>
<path d="M874.5 253.8L874.5 260.6L880.8 260.9L881.7 258.3L878.4 257.6L877.7 253.8Z" fill="#ff0000"/>
<path d="M872.8 261.3L870.7 263.4L870.0 266.9L872.0 268.9L873.3 271.5L876.8 272.9L880.2 270.2L882.7 267.5L880.9 264.1L878.9 261.3Z" fill="#ffa500"/>
<path d="M860.6 272.8L860.6 278.4L864.0 280.4L867.4 281.8L871.5 278.4L872.1 273.6L868.7 270.8L864.7 271.5Z" fill="#00a2e8"/>
<path d="M819.6 269.0L818.3 272.8L815.1 274.8L815.8 281.6L821.9 283.0L825.0 281.7L828.9 282.4L833.5 278.4L835.9 275.0L834.1 270.8L830.4 271.4L829.8 265.7L825.3 266.4L824.7 268.3Z" fill="#ff0000"/>
<path d="M792.0 190.7L792.5 197.5L790.6 198.9L788.4 202.1L789.5 205.3L789.0 207.4L785.9 208.5L785.9 211.6L790.6 212.2L791.6 214.4L795.3 214.2L795.8 211.6L799.1 211.2L801.6 209.7L806.5 209.7L805.9 201.8L800.8 201.3L799.8 196.8L795.3 196.3L795.3 190.7Z" fill="#ff0000"/>
<path d="M774.4 240.8L773.9 242.8L771.4 242.8L770.8 245.4L767.2 246.4L767.2 250.1L770.8 250.6L771.4 253.2L774.5 253.2L775.0 251.8L777.2 252.7L780.5 252.1L780.7 248.6L782.5 248.0L782.2 244.9L779.1 243.9L778.6 240.8Z" fill="#ffff00"/>
<path d="M785.4 240.3L785.4 244.5L790.0 245.6L790.2 249.2L798.1 248.9L797.8 240.5Z" fill="#ff5a00"/>
<path d="M750.8 412.5L748.6 417.1L750.2 419.7L755.4 421.1L756.1 417.6L754.2 412.5Z" fill="#00a2e8"/>
<path d="M604.0 200.5L602.7 206.4L600.1 220.6L616.7 224.6L618.7 215.0L615.4 214.3L614.1 211.8L610.4 210.2L612.3 209.2L612.9 205.4L617.1 202.4L620.4 203.1L621.9 200.1L619.0 196.5L613.4 197.8L612.1 194.3L611.8 194.3L610.4 197.9Z" fill="#00a2e8"/>
<path d="M619.7 249.6L619.7 253.5L634.0 255.4L634.3 258.6L638.8 258.6L639.4 255.4L643.5 254.2L647.9 254.9L648.0 254.8L644.5 249.8L641.8 245.1L636.8 246.5L636.2 251.5Z" fill="#00a2e8"/>
<path d="M976.3 197.2L976.0 201.9L977.1 204.2L980.1 202.8L981.6 200.5L979.4 198.4Z" fill="#ff0000"/>
<path d="M975.9 205.2L973.4 206.1L970.3 207.2L971.0 210.8L973.3 212.7L975.7 213.9L976.3 215.6L977.3 219.5L979.1 220.5L979.9 216.8L979.6 214.4L980.5 213.0L984.2 215.4L985.9 213.7L984.5 211.0L983.3 208.5L982.4 206.1L981.7 202.6L979.0 203.3Z" fill="#ff0000"/>
<path d="M971.0 207.2L971.0 210.7L973.3 212.7L976.6 214.3L976.4 205.0L973.4 206.1Z" fill="#ff5a00"/>
<path d="M964.7 211.1L965.5 215.6L969.0 215.3L971.8 214.6L971.4 211.8L968.3 211.1Z" fill="#ff5a00"/>
<path d="M973.4 213.9L973.8 218.2L976.5 217.7L976.1 213.9Z" fill="#ffa500"/>
<path d="M940.3 225.5L941.3 232.0L943.7 234.0L945.5 231.1L946.8 228.1L946.4 224.8Z" fill="#00a2e8"/>
<path d="M944.9 231.5L946.0 236.1L948.9 237.6L952.0 235.2L953.8 231.6L950.9 230.7L948.2 233.7L945.1 231.4Z" fill="#ffa500"/>
<path d="M967.6 215.6L966.8 218.2L967.9 219.3L965.8 221.4L966.7 223.5L969.8 222.9L972.4 222.1L971.7 219.4L972.7 217.9L971.9 214.8Z" fill="#ff0000"/>
<path d="M958.9 217.3L958.1 220.5L957.6 222.8L953.8 224.7L953.8 226.3L950.9 225.8L949.3 227.4L952.5 231.3L952.8 234.4L954.5 237.1L957.0 237.8L958.8 240.1L960.5 244.8L962.3 243.9L962.7 238.5L961.1 236.0L960.8 233.9L962.4 233.4L966.8 231.5L972.4 228.6L971.9 227.1L966.3 226.2L965.7 224.4L964.2 222.9L963.2 223.6L962.7 220.5L961.6 218.1Z" fill="#ff0000"/>
<path d="M950.9 236.2L948.2 240.3L946.6 244.8L946.9 250.0L949.0 252.8L951.8 252.8L954.5 250.1L956.3 248.3L958.2 245.8L960.9 244.4L960.1 242.8L958.2 240.2L955.6 238.9L953.1 237.7Z" fill="#ff5a00"/>
<path d="M941.1 242.8L943.0 245.8L946.2 247.0L946.2 243.5L944.7 241.6Z" fill="#ffff00"/>
<path d="M932.7 240.9L930.7 244.3L932.2 246.6L934.4 245.9L937.6 243.9L940.3 240.6L939.5 237.9L936.6 238.3Z" fill="#00a2e8"/>
<path d="M977.0 186.9L977.3 191.7L975.8 196.8L977.1 201.7L981.2 202.8L983.4 197.9L984.4 192.9L987.0 188.8L985.8 185.3L980.4 185.8Z" fill="#00a2e8"/>
<path d="M937.1 249.9L939.2 254.2L941.9 256.2L944.3 258.1L945.2 253.7L946.8 251.3L945.9 248.6L941.7 248.2Z" fill="#ff5a00"/>
<path d="M934.8 249.8L933.1 254.2L932.0 257.1L929.7 258.6L928.5 261.1L929.3 264.0L931.8 266.1L933.9 265.8L934.2 267.4L936.6 269.3L938.3 266.6L939.8 264.1L942.3 263.0L945.1 261.7L943.2 259.4L941.3 257.1L938.7 254.8L937.6 252.6Z" fill="#ff0000"/>
<path d="M938.8 266.2L936.9 268.5L936.2 271.3L934.4 271.3L932.7 273.1L933.1 277.7L935.4 278.9L936.2 280.4L938.6 281.2L941.4 282.8L943.7 281.0L944.1 277.5L944.9 273.9L942.8 272.2L941.0 269.2Z" fill="#ff5a00"/>
<path d="M947.3 272.8L945.1 275.8L946.3 279.4L945.9 283.2L946.8 285.7L949.6 286.6L950.4 284.2L952.5 283.5L954.7 282.6L954.3 279.4L951.8 278.9L950.4 277.5L949.1 276.5L949.9 273.3Z" fill="#ffa500"/>
<path d="M918.9 289.7L920.5 300.1L924.6 299.5L923.8 289.1Z" fill="#ffa500"/>
<path d="M926.0 288.7L926.5 292.5L925.1 293.9L924.0 297.7L925.3 300.3L928.8 296.9L930.4 293.7L929.8 288.1Z" fill="#ff0000"/>
<path d="M934.3 289.6L932.1 294.4L929.9 297.8L933.8 300.0L936.7 301.2L938.5 297.7L936.9 294.6L937.5 290.3Z" fill="#ff0000"/>

</g>
<g><path class="st" d="M62.0 135.4L63.1 138.6L62.4 141.3L62.2 144.8L62.5 147.8L60.7 151.3L59.0 154.4L55.4 155.7L57.5 152.8L59.8 148.8L59.1 144.8L56.1 143.6L52.1 142.2L45.7 137.9L44.6 143.1L45.2 150.4L45.3 155.1L45.0 157.9L43.7 162.0L43.1 166.2L41.8 170.5L39.8 175.8L38.0 180.0L35.7 186.4L32.3 192.5L28.5 197.9L28.1 203.1L28.3 207.9L27.7 210.7L25.7 218.4L24.2 221.5L21.7 224.4L23.1 230.1L23.0 237.2L22.3 242.3L25.9 251.1L25.4 254.5L28.9 257.7L28.1 261.2L28.6 266.1L30.7 268.5L32.0 270.6L30.5 272.5L29.6 275.8L33.1 284.5L36.8 291.3L36.5 294.2L35.6 297.7L36.8 299.6L43.6 301.9L47.3 304.5L49.9 307.5L53.4 308.9L53.7 311.9L56.3 313.1L59.3 316.7L61.8 322.5L62.3 328.1M62.3 328.1L85.2 330.7L83.8 333.1L116.9 352.2L144.4 356.1L145.0 351.0L161.1 352.9L161.8 353.3L163.9 356.4L167.1 359.2L169.6 362.6L174.8 367.3L175.8 370.3L177.0 375.3L179.4 379.9L182.6 382.7L185.3 383.8L186.9 385.1L188.8 386.4L191.2 387.4L193.4 385.3L194.8 382.3L196.6 379.0L200.3 378.9L207.7 379.1L211.9 382.8L213.8 384.4L215.7 387.5L217.5 392.1L220.2 397.8L223.3 402.4L226.9 405.9L229.1 412.7L230.0 416.7L231.5 418.4L234.3 420.2L239.4 422.3L243.5 422.6L247.1 424.3L250.7 423.7M250.7 423.7L249.7 417.6L248.5 412.0L250.2 405.3L251.9 402.7L252.9 400.3L258.5 396.4L263.0 394.1L269.5 390.3L273.9 386.7L274.9 385.3L278.3 383.2L283.7 381.4L288.6 380.5L291.1 380.6L299.1 382.6L302.1 382.5L305.0 381.8L308.5 382.7L309.2 385.5L312.2 386.5L315.3 387.4L320.2 386.6L322.5 384.5L324.5 384.0L327.6 384.9L328.3 387.9L330.7 387.2L331.5 384.6L329.9 383.1L326.7 379.9L328.5 377.3L323.0 376.2L323.8 374.4L326.0 374.0L327.8 372.5L332.0 371.1L335.4 371.3L336.9 370.9L339.3 371.0L340.3 367.5L341.8 371.3L341.9 372.1L345.6 371.2L348.6 370.5L355.4 369.1L357.4 369.3L363.6 371.5L366.2 372.9L367.4 375.9L370.9 374.9L371.9 374.8L377.0 372.1L378.5 370.0L379.7 369.9L383.3 370.8L386.7 373.5L388.1 376.4L391.0 379.1L394.3 381.2L394.9 383.4L394.0 389.8L393.5 391.9L394.1 394.3L394.7 395.9L396.5 398.8L398.2 401.1L400.9 405.3L403.6 407.7L406.4 410.7L407.5 413.0L411.0 413.9L414.9 418.4L417.6 421.9L422.7 421.1L424.4 418.6M424.4 418.6L425.1 416.2L426.1 411.8L425.8 408.1L425.4 401.4L423.2 396.1L420.3 391.4L417.3 386.8L417.0 382.7L411.0 375.3L406.8 367.9L405.0 362.5L403.9 359.0L403.6 354.1L404.9 349.9L407.1 343.5L408.3 341.9L410.5 339.8L411.6 337.3L415.1 333.8L419.5 330.2L420.7 327.7L422.4 321.6L425.2 319.3L426.4 318.5L430.5 318.3L433.1 311.4L436.7 307.8L440.2 306.5L442.0 307.3L445.7 301.1L449.5 298.5L448.1 292.0L443.2 284.3L441.1 280.4L438.4 280.7L438.3 280.1L436.8 277.5L436.9 273.4L436.7 270.2L435.6 268.6L434.1 264.7L432.1 258.5L431.3 256.0L434.3 251.3L434.8 253.5L433.6 258.4L434.5 262.3L436.1 265.5L439.8 268.2L439.9 272.8L440.9 278.2L444.4 268.3L445.7 263.0L445.6 261.6L444.3 257.8L441.0 255.1L438.9 252.0L438.8 248.0L438.5 249.8L439.3 251.4L442.9 253.5L445.4 256.1L448.7 250.4L450.3 245.3L450.1 242.5L449.3 237.2L447.1 237.3L448.5 234.6L448.8 232.2L450.0 233.1L450.7 230.6L454.1 228.0L456.3 226.3L462.7 224.1L464.7 223.6L467.6 222.1L468.0 220.9L467.7 218.1L469.5 220.0L470.7 219.6L473.2 216.0L474.1 218.1L476.4 216.5L479.1 215.3L477.1 211.4L475.9 211.7L478.3 214.0L476.9 215.0L474.4 215.5L472.6 213.8L470.5 210.9L468.5 210.2L469.3 208.2L470.9 206.0L468.4 204.1L469.1 201.2L470.1 197.4L470.6 194.3L473.0 192.5L475.8 190.5L478.6 186.7L478.8 183.1L483.9 183.4L485.8 181.1L488.5 179.0L490.3 176.7L492.5 174.2M448.9 235.7L453.1 234.9L458.5 231.6L461.5 229.7L465.3 226.1L463.6 227.4L461.5 226.2L459.6 229.0L455.4 229.8L452.3 231.4L450.5 233.0L448.8 234.6L448.9 235.7M492.5 174.2L491.0 172.3L489.0 171.2L487.0 170.0L485.9 166.8L482.6 165.5L482.3 163.9L478.4 151.8L476.3 150.3L473.3 150.1L469.8 153.1L468.6 153.2L466.5 150.9L463.1 160.6L463.6 164.0L462.3 166.7L463.5 169.3L462.9 171.8L461.4 175.1L460.9 176.4L461.0 178.2L459.1 178.1L456.7 179.3L456.7 182.1L442.3 185.9L431.3 188.5L426.2 193.1L423.8 197.8L421.0 200.9L422.2 203.3L423.3 206.5L421.2 208.5L417.6 211.5L412.8 212.6L405.3 212.8L400.9 214.9L401.3 216.9L403.2 218.8L402.2 221.1L400.3 223.8L397.3 226.9L394.7 228.5L394.9 228.9L391.3 231.4L389.4 232.5L385.7 234.8L382.6 238.2L378.6 239.1L374.3 240.0L374.0 239.0L372.3 239.5L371.5 238.1L367.5 238.1L369.6 233.8L370.0 230.5L371.4 228.9L373.9 226.8L374.1 222.4L372.4 217.5L370.8 213.0L367.6 211.1L365.6 212.5L364.5 215.2L361.3 216.9L362.2 212.1L363.7 209.1L364.4 207.3L363.9 201.9L362.6 200.3L362.5 197.5L359.0 196.6L353.5 194.7L351.3 193.5L348.6 195.9L350.1 198.3L347.7 199.2L347.0 202.9L345.5 205.7L345.5 200.8L341.8 204.6L340.6 207.8L340.5 212.1L339.1 214.4L339.5 219.1L341.6 223.6L343.2 228.6L343.1 233.0L341.6 236.5L338.7 241.2L335.4 242.6L334.2 242.4L332.5 239.9L330.3 233.1L329.1 226.9L329.9 218.9L329.9 214.9L330.8 210.8L332.7 205.5L334.3 200.8L331.2 206.2L326.7 210.3L327.5 206.0L329.3 203.6L330.9 199.4L332.8 195.9L336.3 197.2L337.0 196.0L339.1 193.0L345.2 190.6L351.2 192.5L353.6 190.7L357.6 190.8L360.6 189.8L357.3 189.1L355.6 187.7L353.2 185.1L351.3 185.3L348.2 185.9L347.8 182.7L340.1 184.7L335.4 188.0L333.0 187.9L329.4 187.1L327.5 183.9L325.1 183.6L322.8 183.8L321.0 185.6L321.8 181.6L326.1 177.8L324.1 177.2L319.7 180.1L316.8 183.1L314.1 184.8L312.3 185.1L305.8 188.4L301.9 188.6L302.1 184.7L300.2 185.9L294.0 187.9L292.4 187.1L295.8 184.4L298.7 180.9L305.4 175.5L311.7 172.3L311.0 172.3L307.9 172.5L302.1 171.8L300.2 171.9L296.0 172.6L292.4 170.6L290.1 169.5L287.4 168.0L284.7 167.0L281.6 167.1L278.6 166.6L272.5 166.0L271.8 164.5L269.7 159.0L268.2 158.6L268.3 162.9M268.3 162.9L261.8 162.9L254.3 162.9L246.7 162.8L239.1 162.6L231.6 162.4L224.0 162.0L216.5 161.6L208.9 161.1L201.4 160.6L193.8 159.9L186.3 159.2L178.8 158.4L171.3 157.5L163.8 156.5L156.3 155.5L148.8 154.4L141.3 153.2L133.9 151.9L126.4 150.6L119.0 149.1L111.6 147.6L104.2 146.0L96.8 144.4L89.5 142.6L82.1 140.8L74.8 138.9L67.5 137.0L62.0 135.4M43.7 162.0L48.4 164.2L49.8 165.2L51.8 168.1L51.6 171.6L54.8 173.6L59.1 173.1L63.7 174.3L67.4 175.9L71.5 175.8L77.4 175.3L81.6 175.4L81.6 175.4L89.5 177.2L97.5 179.0M104.0 146.0L97.6 174.2L97.5 179.0M97.5 179.0L100.0 184.2L97.5 187.1L93.5 192.0L91.1 197.3L91.9 201.0L91.2 203.1L86.7 223.1M28.3 207.9L36.6 210.3L44.9 212.7L53.2 214.9L61.6 217.1L69.9 219.2L78.3 221.2L86.7 223.1M86.7 223.1L96.6 225.2L106.4 227.1L116.3 229.0L126.2 230.7L136.1 232.3M62.5 217.3L54.0 250.4L91.0 305.4M99.0 293.0L96.0 293.6L92.3 293.8L92.2 298.6L91.0 305.4L92.0 309.1L93.9 314.0L89.9 317.3L86.7 323.1L87.9 327.9L85.2 330.7M111.4 228.1L100.6 284.0L99.0 293.0M100.6 284.0L109.4 285.6L118.3 287.1L127.2 288.6L136.1 289.9L145.0 291.1L154.0 292.3L162.9 293.4L171.9 294.3L180.8 295.2L189.8 296.0L198.8 296.6L207.8 297.2M207.8 297.2L217.3 297.8L226.9 298.2L236.4 298.5L246.0 298.7L255.5 298.8L265.1 298.8L274.6 298.7M111.2 147.6L108.9 158.5L110.5 162.2L110.3 165.1L112.9 167.9L114.6 171.1L116.2 174.8L118.8 175.9L116.7 183.0L114.9 187.8L116.2 189.2L119.9 187.0L120.8 188.9L122.4 195.5L123.6 198.0L125.9 203.6L127.3 202.1L130.6 202.1L137.0 203.2L138.1 201.6L140.5 204.6M141.4 198.7L134.3 243.5M141.4 198.7L149.4 199.9L157.3 201.0L165.3 202.0L173.3 203.0L181.3 203.8L189.3 204.6L197.3 205.3M201.0 160.5L193.6 250.5M134.3 243.5L142.8 244.8L151.2 246.0L159.6 247.1L168.1 248.1L176.6 249.0L185.1 249.8L193.6 250.5L202.0 251.2L210.6 251.7M151.2 246.0L145.0 291.1L136.3 355.0M210.6 251.7L207.8 297.2M210.6 251.7L209.9 263.1M199.2 296.7L198.8 302.4L194.6 353.4M194.6 353.4L183.2 352.5L171.9 351.5L160.5 350.3L161.1 352.9M198.8 302.4L207.9 302.9L216.9 303.4L226.0 303.8L225.1 325.9M225.1 325.9L227.8 327.8L232.5 328.6L234.7 330.3L238.0 331.0L242.7 331.7L245.0 334.5L248.2 334.0L251.5 336.3L254.3 334.6L258.6 336.4L263.3 334.1L267.0 334.6L271.7 336.9L276.6 336.9L280.8 337.8M198.2 194.7L206.6 195.4L215.1 195.9L223.6 196.4L232.0 196.7L240.5 197.0L249.0 197.2L257.5 197.2M195.4 227.9L204.6 228.6L213.8 229.2L222.9 229.6L232.1 230.0L241.3 230.3L246.3 232.1L251.2 232.2L254.1 233.3L258.4 236.3M209.9 263.1L219.6 263.6L229.3 264.1L239.0 264.4L248.7 264.5L258.4 264.6L268.1 264.6M252.5 162.9L253.1 168.5L253.8 174.1L255.3 179.7L255.5 185.3L256.0 190.9L257.5 196.6L257.5 197.2L255.2 201.1L258.3 204.5L258.3 224.8M258.3 224.8L257.5 227.1L258.3 229.4L257.0 232.8L258.4 236.3M258.4 236.3L260.4 241.9L261.6 247.5L263.4 253.2L264.1 258.0L266.4 261.7L268.1 264.6L271.7 266.8L270.4 270.2L274.4 274.7M258.3 224.8L266.9 224.8L275.5 224.7L284.1 224.5L292.7 224.1L301.3 223.7M264.1 258.0L272.7 257.9L281.4 257.7L290.0 257.5L298.7 257.1L301.5 259.2M274.4 274.7L274.6 298.7L274.7 304.4M274.7 304.4L276.7 316.9L276.6 336.9M280.8 337.8L280.9 344.1L281.2 355.4L283.4 359.9L286.2 364.4L286.0 368.9L284.8 374.6L284.9 377.4L283.7 381.4M280.9 344.1L294.6 343.7L308.2 343.0M274.7 304.4L284.9 304.1L295.0 303.8L305.1 303.3L315.2 302.7L313.6 308.5L319.7 308.1M287.8 210.2L291.5 212.3L294.8 214.4L299.1 218.2L301.3 223.7L302.2 229.4L303.2 232.7L306.6 234.8L311.1 239.1L310.9 242.5L307.3 246.7L304.0 247.5L304.7 252.0L301.5 256.7L301.5 259.2L301.5 264.7L305.3 270.2L308.6 274.6L313.9 276.0L313.2 278.9L315.0 285.6L320.1 288.7L320.5 293.2L323.8 296.4L323.7 300.4L321.1 302.3L319.7 308.1L317.8 314.0L316.7 318.6L315.0 319.9L313.3 323.4L311.3 328.1L308.8 333.9L308.1 338.5L308.2 343.0L309.6 348.6L309.4 354.3L306.3 359.0L305.2 365.9M292.8 187.9L291.0 188.6L291.2 195.1L287.4 198.9L288.7 202.8L287.8 207.3L287.8 210.2M305.2 365.9L323.4 364.8L322.5 368.9L326.0 374.0M334.3 318.4L335.3 319.5L334.8 349.2L336.9 370.9M315.0 319.9L324.5 319.2L333.9 318.5L343.4 317.6L352.9 316.7L362.3 315.6L371.8 314.5L381.2 313.2M358.3 316.1L361.4 327.2L365.0 339.9L367.9 345.9L366.9 351.7L368.0 358.4L369.2 360.6L371.0 363.8M344.0 363.2L356.6 362.0L369.2 360.6M344.0 363.2L346.3 366.4L345.6 371.2M371.0 363.8L395.9 361.9L397.0 362.6L397.8 361.3L397.8 359.3L403.9 359.0M381.2 313.2L379.4 316.9L384.4 319.1L387.9 323.8L391.5 326.1L394.4 328.9L399.4 333.5L401.0 337.9L407.1 343.5M425.2 319.3L412.9 310.6L402.6 312.1L400.9 309.1L399.8 308.7L388.2 309.9L381.2 313.2M391.4 293.4L391.7 296.7L388.5 299.5L384.1 301.3L381.5 302.3L379.1 304.9L376.7 307.4L372.3 309.2L371.7 311.6L370.0 314.8M443.2 284.3L433.3 286.4L423.4 288.4L413.5 290.2L403.5 292.0L393.5 293.6L383.5 295.1L373.5 296.4M373.4 295.9L373.4 295.7L363.6 296.9L353.8 298.0L343.9 299.0L334.1 299.9L334.2 301.3L321.1 302.3M323.8 296.4L329.5 293.7L333.2 294.5L332.8 290.6L332.9 286.5L336.8 285.1L341.4 285.8L345.7 284.2L348.2 282.8L352.7 279.4L355.2 274.0L360.4 272.8L359.9 268.9L362.5 268.6L365.6 271.6L370.2 272.7L376.3 272.5L377.0 270.7L380.1 274.0L383.3 271.5L386.1 266.5L388.9 261.4L391.9 258.6L393.5 252.0L394.1 246.3M332.9 286.5L333.4 281.9L335.7 278.3L336.6 273.6L335.9 268.5L333.5 241.9M359.9 268.9L356.3 239.5M339.1 240.7L339.5 240.6L347.9 239.8L356.2 238.8L356.3 239.5L367.5 238.1M330.3 233.1L318.5 234.0L306.6 234.8M329.3 203.6L327.0 200.4L324.6 196.0L319.7 194.2L316.4 193.3L305.8 188.4M380.1 274.0L382.8 279.6L387.2 283.1L384.8 287.4L378.2 291.8L373.4 295.9M387.2 283.1L390.3 286.6L394.4 284.8L400.4 282.6L402.0 281.2L404.1 275.1L405.9 270.1L409.4 267.2L411.9 263.9L415.9 261.4L420.6 256.7M405.8 260.9L409.3 256.8L414.1 254.2L415.7 253.3L418.9 253.8L420.6 256.7L425.4 259.5L427.3 260.3L426.4 266.9L429.6 266.8L435.5 269.1M394.1 246.3L395.8 256.6L395.8 256.6L405.9 254.9L416.0 253.0L426.1 251.0L436.1 248.9L438.3 247.1L439.2 247.3M394.1 246.3L391.6 231.3M404.7 255.1L405.8 260.9M436.1 248.9L440.0 262.7L445.6 261.6M445.0 266.7L441.7 268.3M439.2 247.3L443.8 242.2L439.0 238.6L438.8 233.9L441.1 228.6L436.6 224.0L434.1 222.8M441.1 228.6L448.7 231.1M434.1 222.8L425.1 224.7L416.0 226.6L406.9 228.3L397.8 229.9L397.3 226.9M442.3 185.9L443.7 191.4L445.7 201.4L447.0 201.7L449.1 210.5L449.1 218.7L450.8 227.1L449.8 229.6L450.7 230.6M449.1 210.7L465.0 206.7L468.4 204.1M449.2 218.9L463.0 215.4L466.5 214.8L468.0 217.7L469.9 219.9M463.1 215.5L464.7 223.6M456.7 182.1L456.7 185.2L456.1 189.4L455.2 195.5L454.1 199.3L455.0 206.1L455.7 209.1M459.1 178.1L465.0 196.4L468.7 201.3M271.4 171.8L273.0 172.6L271.1 174.2L268.4 175.4L267.2 174.6L269.1 173.1L271.4 171.8M122.6 234.1L119.6 236.5L120.0 241.2L124.1 245.4L126.2 242.8L124.2 239.6L125.4 237.5L122.6 234.1M416.2 397.2L418.3 398.0L418.8 400.8L417.6 402.7L414.9 402.0L414.4 399.2L416.2 397.2"/><path class="dk" d="M425.2 417.9L424.2 420.3L422.4 422.3L418.6 424.9L415.1 426.3L411.1 427.9M250.5 422.1L249.4 416.5L248.5 410.9L250.4 405.3L252.1 402.5L253.9 399.7L258.5 396.9L263.0 394.1M266.0 392.4L269.7 390.1L271.4 388.4L274.6 386.1M443.5 284.9L448.2 292.0L449.5 298.5L445.7 301.1L442.0 307.3M492.5 174.2L490.1 177.4L487.1 180.0L484.2 182.7L481.8 184.6L479.3 187.7L476.0 191.0L473.2 193.0M323.0 384.1L320.2 386.6L315.3 387.4L311.2 386.0M403.8 358.1L404.3 352.3L406.6 345.1L410.1 339.9L413.3 335.9M407.8 413.3L403.9 408.2L400.9 405.3L398.2 401.1L395.2 397.0L393.6 392.7M424.1 398.2L420.4 392.0L417.2 386.8L417.0 382.7L414.2 379.3M441.2 277.8L442.6 272.2L444.3 267.8L445.5 262.2M474.1 218.1L476.4 216.5L479.1 215.3L477.1 211.4L475.9 211.7L478.3 214.0M61.5 135.9L60.1 139.5L60.9 142.1L60.4 145.4M58.4 138.5L58.3 140.2M59.6 148.1L58.3 151.2L58.4 153.6L56.0 153.5M319.3 170.0L314.5 173.0M36.3 304.1L40.6 306.2L43.9 306.6M378.3 370.3L382.8 370.8L386.5 373.5L388.1 376.4L390.8 379.1L394.1 381.3M368.0 375.5L371.4 374.9L376.5 372.2M60.1 135.8L58.6 139.1M61.8 137.7L60.7 140.9L60.7 143.8M60.0 149.4L59.1 152.6"/><g fill="#484848"><circle cx="399.8" cy="428.8" r="1.2"/><circle cx="52.6" cy="315.7" r="1.6"/><circle cx="50.8" cy="320.0" r="1.3"/><circle cx="42.2" cy="315.0" r="1.1"/><circle cx="47.1" cy="313.6" r="0.7"/><circle cx="474.8" cy="220.3" r="1.2"/><circle cx="479.5" cy="219.8" r="1.0"/><circle cx="345.0" cy="195.7" r="1.0"/><circle cx="342.1" cy="202.9" r="0.8"/><circle cx="275.4" cy="180.7" r="1.2"/><circle cx="224.0" cy="176.8" r="0.8"/><circle cx="266.2" cy="197.8" r="0.5"/><circle cx="270.7" cy="186.2" r="0.5"/><circle cx="280.8" cy="178.6" r="0.6"/><circle cx="272.7" cy="192.0" r="0.5"/><circle cx="318.7" cy="195.8" r="0.5"/><circle cx="326.3" cy="203.3" r="0.5"/><circle cx="335.1" cy="184.4" r="0.5"/><circle cx="341.4" cy="189.4" r="0.5"/><circle cx="346.5" cy="203.3" r="0.6"/><circle cx="349.0" cy="209.6" r="0.5"/><circle cx="361.6" cy="214.7" r="0.5"/><circle cx="261.9" cy="203.3" r="0.5"/><circle cx="277.0" cy="186.2" r="0.5"/><circle cx="314.9" cy="207.1" r="0.5"/><circle cx="331.3" cy="195.8" r="0.5"/><circle cx="351.5" cy="195.8" r="0.5"/></g></g>
<g transform="translate(513.0 -2.5)"><path class="st" d="M62.0 135.4L63.1 138.6L62.4 141.3L62.2 144.8L62.5 147.8L60.7 151.3L59.0 154.4L55.4 155.7L57.5 152.8L59.8 148.8L59.1 144.8L56.1 143.6L52.1 142.2L45.7 137.9L44.6 143.1L45.2 150.4L45.3 155.1L45.0 157.9L43.7 162.0L43.1 166.2L41.8 170.5L39.8 175.8L38.0 180.0L35.7 186.4L32.3 192.5L28.5 197.9L28.1 203.1L28.3 207.9L27.7 210.7L25.7 218.4L24.2 221.5L21.7 224.4L23.1 230.1L23.0 237.2L22.3 242.3L25.9 251.1L25.4 254.5L28.9 257.7L28.1 261.2L28.6 266.1L30.7 268.5L32.0 270.6L30.5 272.5L29.6 275.8L33.1 284.5L36.8 291.3L36.5 294.2L35.6 297.7L36.8 299.6L43.6 301.9L47.3 304.5L49.9 307.5L53.4 308.9L53.7 311.9L56.3 313.1L59.3 316.7L61.8 322.5L62.3 328.1M62.3 328.1L85.2 330.7L83.8 333.1L116.9 352.2L144.4 356.1L145.0 351.0L161.1 352.9L161.8 353.3L163.9 356.4L167.1 359.2L169.6 362.6L174.8 367.3L175.8 370.3L177.0 375.3L179.4 379.9L182.6 382.7L185.3 383.8L186.9 385.1L188.8 386.4L191.2 387.4L193.4 385.3L194.8 382.3L196.6 379.0L200.3 378.9L207.7 379.1L211.9 382.8L213.8 384.4L215.7 387.5L217.5 392.1L220.2 397.8L223.3 402.4L226.9 405.9L229.1 412.7L230.0 416.7L231.5 418.4L234.3 420.2L239.4 422.3L243.5 422.6L247.1 424.3L250.7 423.7M250.7 423.7L249.7 417.6L248.5 412.0L250.2 405.3L251.9 402.7L252.9 400.3L258.5 396.4L263.0 394.1L269.5 390.3L273.9 386.7L274.9 385.3L278.3 383.2L283.7 381.4L288.6 380.5L291.1 380.6L299.1 382.6L302.1 382.5L305.0 381.8L308.5 382.7L309.2 385.5L312.2 386.5L315.3 387.4L320.2 386.6L322.5 384.5L324.5 384.0L327.6 384.9L328.3 387.9L330.7 387.2L331.5 384.6L329.9 383.1L326.7 379.9L328.5 377.3L323.0 376.2L323.8 374.4L326.0 374.0L327.8 372.5L332.0 371.1L335.4 371.3L336.9 370.9L339.3 371.0L340.3 367.5L341.8 371.3L341.9 372.1L345.6 371.2L348.6 370.5L355.4 369.1L357.4 369.3L363.6 371.5L366.2 372.9L367.4 375.9L370.9 374.9L371.9 374.8L377.0 372.1L378.5 370.0L379.7 369.9L383.3 370.8L386.7 373.5L388.1 376.4L391.0 379.1L394.3 381.2L394.9 383.4L394.0 389.8L393.5 391.9L394.1 394.3L394.7 395.9L396.5 398.8L398.2 401.1L400.9 405.3L403.6 407.7L406.4 410.7L407.5 413.0L411.0 413.9L414.9 418.4L417.6 421.9L422.7 421.1L424.4 418.6M424.4 418.6L425.1 416.2L426.1 411.8L425.8 408.1L425.4 401.4L423.2 396.1L420.3 391.4L417.3 386.8L417.0 382.7L411.0 375.3L406.8 367.9L405.0 362.5L403.9 359.0L403.6 354.1L404.9 349.9L407.1 343.5L408.3 341.9L410.5 339.8L411.6 337.3L415.1 333.8L419.5 330.2L420.7 327.7L422.4 321.6L425.2 319.3L426.4 318.5L430.5 318.3L433.1 311.4L436.7 307.8L440.2 306.5L442.0 307.3L445.7 301.1L449.5 298.5L448.1 292.0L443.2 284.3L441.1 280.4L438.4 280.7L438.3 280.1L436.8 277.5L436.9 273.4L436.7 270.2L435.6 268.6L434.1 264.7L432.1 258.5L431.3 256.0L434.3 251.3L434.8 253.5L433.6 258.4L434.5 262.3L436.1 265.5L439.8 268.2L439.9 272.8L440.9 278.2L444.4 268.3L445.7 263.0L445.6 261.6L444.3 257.8L441.0 255.1L438.9 252.0L438.8 248.0L438.5 249.8L439.3 251.4L442.9 253.5L445.4 256.1L448.7 250.4L450.3 245.3L450.1 242.5L449.3 237.2L447.1 237.3L448.5 234.6L448.8 232.2L450.0 233.1L450.7 230.6L454.1 228.0L456.3 226.3L462.7 224.1L464.7 223.6L467.6 222.1L468.0 220.9L467.7 218.1L469.5 220.0L470.7 219.6L473.2 216.0L474.1 218.1L476.4 216.5L479.1 215.3L477.1 211.4L475.9 211.7L478.3 214.0L476.9 215.0L474.4 215.5L472.6 213.8L470.5 210.9L468.5 210.2L469.3 208.2L470.9 206.0L468.4 204.1L469.1 201.2L470.1 197.4L470.6 194.3L473.0 192.5L475.8 190.5L478.6 186.7L478.8 183.1L483.9 183.4L485.8 181.1L488.5 179.0L490.3 176.7L492.5 174.2M448.9 235.7L453.1 234.9L458.5 231.6L461.5 229.7L465.3 226.1L463.6 227.4L461.5 226.2L459.6 229.0L455.4 229.8L452.3 231.4L450.5 233.0L448.8 234.6L448.9 235.7M492.5 174.2L491.0 172.3L489.0 171.2L487.0 170.0L485.9 166.8L482.6 165.5L482.3 163.9L478.4 151.8L476.3 150.3L473.3 150.1L469.8 153.1L468.6 153.2L466.5 150.9L463.1 160.6L463.6 164.0L462.3 166.7L463.5 169.3L462.9 171.8L461.4 175.1L460.9 176.4L461.0 178.2L459.1 178.1L456.7 179.3L456.7 182.1L442.3 185.9L431.3 188.5L426.2 193.1L423.8 197.8L421.0 200.9L422.2 203.3L423.3 206.5L421.2 208.5L417.6 211.5L412.8 212.6L405.3 212.8L400.9 214.9L401.3 216.9L403.2 218.8L402.2 221.1L400.3 223.8L397.3 226.9L394.7 228.5L394.9 228.9L391.3 231.4L389.4 232.5L385.7 234.8L382.6 238.2L378.6 239.1L374.3 240.0L374.0 239.0L372.3 239.5L371.5 238.1L367.5 238.1L369.6 233.8L370.0 230.5L371.4 228.9L373.9 226.8L374.1 222.4L372.4 217.5L370.8 213.0L367.6 211.1L365.6 212.5L364.5 215.2L361.3 216.9L362.2 212.1L363.7 209.1L364.4 207.3L363.9 201.9L362.6 200.3L362.5 197.5L359.0 196.6L353.5 194.7L351.3 193.5L348.6 195.9L350.1 198.3L347.7 199.2L347.0 202.9L345.5 205.7L345.5 200.8L341.8 204.6L340.6 207.8L340.5 212.1L339.1 214.4L339.5 219.1L341.6 223.6L343.2 228.6L343.1 233.0L341.6 236.5L338.7 241.2L335.4 242.6L334.2 242.4L332.5 239.9L330.3 233.1L329.1 226.9L329.9 218.9L329.9 214.9L330.8 210.8L332.7 205.5L334.3 200.8L331.2 206.2L326.7 210.3L327.5 206.0L329.3 203.6L330.9 199.4L332.8 195.9L336.3 197.2L337.0 196.0L339.1 193.0L345.2 190.6L351.2 192.5L353.6 190.7L357.6 190.8L360.6 189.8L357.3 189.1L355.6 187.7L353.2 185.1L351.3 185.3L348.2 185.9L347.8 182.7L340.1 184.7L335.4 188.0L333.0 187.9L329.4 187.1L327.5 183.9L325.1 183.6L322.8 183.8L321.0 185.6L321.8 181.6L326.1 177.8L324.1 177.2L319.7 180.1L316.8 183.1L314.1 184.8L312.3 185.1L305.8 188.4L301.9 188.6L302.1 184.7L300.2 185.9L294.0 187.9L292.4 187.1L295.8 184.4L298.7 180.9L305.4 175.5L311.7 172.3L311.0 172.3L307.9 172.5L302.1 171.8L300.2 171.9L296.0 172.6L292.4 170.6L290.1 169.5L287.4 168.0L284.7 167.0L281.6 167.1L278.6 166.6L272.5 166.0L271.8 164.5L269.7 159.0L268.2 158.6L268.3 162.9M268.3 162.9L261.8 162.9L254.3 162.9L246.7 162.8L239.1 162.6L231.6 162.4L224.0 162.0L216.5 161.6L208.9 161.1L201.4 160.6L193.8 159.9L186.3 159.2L178.8 158.4L171.3 157.5L163.8 156.5L156.3 155.5L148.8 154.4L141.3 153.2L133.9 151.9L126.4 150.6L119.0 149.1L111.6 147.6L104.2 146.0L96.8 144.4L89.5 142.6L82.1 140.8L74.8 138.9L67.5 137.0L62.0 135.4M43.7 162.0L48.4 164.2L49.8 165.2L51.8 168.1L51.6 171.6L54.8 173.6L59.1 173.1L63.7 174.3L67.4 175.9L71.5 175.8L77.4 175.3L81.6 175.4L81.6 175.4L89.5 177.2L97.5 179.0M104.0 146.0L97.6 174.2L97.5 179.0M97.5 179.0L100.0 184.2L97.5 187.1L93.5 192.0L91.1 197.3L91.9 201.0L91.2 203.1L86.7 223.1M28.3 207.9L36.6 210.3L44.9 212.7L53.2 214.9L61.6 217.1L69.9 219.2L78.3 221.2L86.7 223.1M86.7 223.1L96.6 225.2L106.4 227.1L116.3 229.0L126.2 230.7L136.1 232.3M62.5 217.3L54.0 250.4L91.0 305.4M99.0 293.0L96.0 293.6L92.3 293.8L92.2 298.6L91.0 305.4L92.0 309.1L93.9 314.0L89.9 317.3L86.7 323.1L87.9 327.9L85.2 330.7M111.4 228.1L100.6 284.0L99.0 293.0M100.6 284.0L109.4 285.6L118.3 287.1L127.2 288.6L136.1 289.9L145.0 291.1L154.0 292.3L162.9 293.4L171.9 294.3L180.8 295.2L189.8 296.0L198.8 296.6L207.8 297.2M207.8 297.2L217.3 297.8L226.9 298.2L236.4 298.5L246.0 298.7L255.5 298.8L265.1 298.8L274.6 298.7M111.2 147.6L108.9 158.5L110.5 162.2L110.3 165.1L112.9 167.9L114.6 171.1L116.2 174.8L118.8 175.9L116.7 183.0L114.9 187.8L116.2 189.2L119.9 187.0L120.8 188.9L122.4 195.5L123.6 198.0L125.9 203.6L127.3 202.1L130.6 202.1L137.0 203.2L138.1 201.6L140.5 204.6M141.4 198.7L134.3 243.5M141.4 198.7L149.4 199.9L157.3 201.0L165.3 202.0L173.3 203.0L181.3 203.8L189.3 204.6L197.3 205.3M201.0 160.5L193.6 250.5M134.3 243.5L142.8 244.8L151.2 246.0L159.6 247.1L168.1 248.1L176.6 249.0L185.1 249.8L193.6 250.5L202.0 251.2L210.6 251.7M151.2 246.0L145.0 291.1L136.3 355.0M210.6 251.7L207.8 297.2M210.6 251.7L209.9 263.1M199.2 296.7L198.8 302.4L194.6 353.4M194.6 353.4L183.2 352.5L171.9 351.5L160.5 350.3L161.1 352.9M198.8 302.4L207.9 302.9L216.9 303.4L226.0 303.8L225.1 325.9M225.1 325.9L227.8 327.8L232.5 328.6L234.7 330.3L238.0 331.0L242.7 331.7L245.0 334.5L248.2 334.0L251.5 336.3L254.3 334.6L258.6 336.4L263.3 334.1L267.0 334.6L271.7 336.9L276.6 336.9L280.8 337.8M198.2 194.7L206.6 195.4L215.1 195.9L223.6 196.4L232.0 196.7L240.5 197.0L249.0 197.2L257.5 197.2M195.4 227.9L204.6 228.6L213.8 229.2L222.9 229.6L232.1 230.0L241.3 230.3L246.3 232.1L251.2 232.2L254.1 233.3L258.4 236.3M209.9 263.1L219.6 263.6L229.3 264.1L239.0 264.4L248.7 264.5L258.4 264.6L268.1 264.6M252.5 162.9L253.1 168.5L253.8 174.1L255.3 179.7L255.5 185.3L256.0 190.9L257.5 196.6L257.5 197.2L255.2 201.1L258.3 204.5L258.3 224.8M258.3 224.8L257.5 227.1L258.3 229.4L257.0 232.8L258.4 236.3M258.4 236.3L260.4 241.9L261.6 247.5L263.4 253.2L264.1 258.0L266.4 261.7L268.1 264.6L271.7 266.8L270.4 270.2L274.4 274.7M258.3 224.8L266.9 224.8L275.5 224.7L284.1 224.5L292.7 224.1L301.3 223.7M264.1 258.0L272.7 257.9L281.4 257.7L290.0 257.5L298.7 257.1L301.5 259.2M274.4 274.7L274.6 298.7L274.7 304.4M274.7 304.4L276.7 316.9L276.6 336.9M280.8 337.8L280.9 344.1L281.2 355.4L283.4 359.9L286.2 364.4L286.0 368.9L284.8 374.6L284.9 377.4L283.7 381.4M280.9 344.1L294.6 343.7L308.2 343.0M274.7 304.4L284.9 304.1L295.0 303.8L305.1 303.3L315.2 302.7L313.6 308.5L319.7 308.1M287.8 210.2L291.5 212.3L294.8 214.4L299.1 218.2L301.3 223.7L302.2 229.4L303.2 232.7L306.6 234.8L311.1 239.1L310.9 242.5L307.3 246.7L304.0 247.5L304.7 252.0L301.5 256.7L301.5 259.2L301.5 264.7L305.3 270.2L308.6 274.6L313.9 276.0L313.2 278.9L315.0 285.6L320.1 288.7L320.5 293.2L323.8 296.4L323.7 300.4L321.1 302.3L319.7 308.1L317.8 314.0L316.7 318.6L315.0 319.9L313.3 323.4L311.3 328.1L308.8 333.9L308.1 338.5L308.2 343.0L309.6 348.6L309.4 354.3L306.3 359.0L305.2 365.9M292.8 187.9L291.0 188.6L291.2 195.1L287.4 198.9L288.7 202.8L287.8 207.3L287.8 210.2M305.2 365.9L323.4 364.8L322.5 368.9L326.0 374.0M334.3 318.4L335.3 319.5L334.8 349.2L336.9 370.9M315.0 319.9L324.5 319.2L333.9 318.5L343.4 317.6L352.9 316.7L362.3 315.6L371.8 314.5L381.2 313.2M358.3 316.1L361.4 327.2L365.0 339.9L367.9 345.9L366.9 351.7L368.0 358.4L369.2 360.6L371.0 363.8M344.0 363.2L356.6 362.0L369.2 360.6M344.0 363.2L346.3 366.4L345.6 371.2M371.0 363.8L395.9 361.9L397.0 362.6L397.8 361.3L397.8 359.3L403.9 359.0M381.2 313.2L379.4 316.9L384.4 319.1L387.9 323.8L391.5 326.1L394.4 328.9L399.4 333.5L401.0 337.9L407.1 343.5M425.2 319.3L412.9 310.6L402.6 312.1L400.9 309.1L399.8 308.7L388.2 309.9L381.2 313.2M391.4 293.4L391.7 296.7L388.5 299.5L384.1 301.3L381.5 302.3L379.1 304.9L376.7 307.4L372.3 309.2L371.7 311.6L370.0 314.8M443.2 284.3L433.3 286.4L423.4 288.4L413.5 290.2L403.5 292.0L393.5 293.6L383.5 295.1L373.5 296.4M373.4 295.9L373.4 295.7L363.6 296.9L353.8 298.0L343.9 299.0L334.1 299.9L334.2 301.3L321.1 302.3M323.8 296.4L329.5 293.7L333.2 294.5L332.8 290.6L332.9 286.5L336.8 285.1L341.4 285.8L345.7 284.2L348.2 282.8L352.7 279.4L355.2 274.0L360.4 272.8L359.9 268.9L362.5 268.6L365.6 271.6L370.2 272.7L376.3 272.5L377.0 270.7L380.1 274.0L383.3 271.5L386.1 266.5L388.9 261.4L391.9 258.6L393.5 252.0L394.1 246.3M332.9 286.5L333.4 281.9L335.7 278.3L336.6 273.6L335.9 268.5L333.5 241.9M359.9 268.9L356.3 239.5M339.1 240.7L339.5 240.6L347.9 239.8L356.2 238.8L356.3 239.5L367.5 238.1M330.3 233.1L318.5 234.0L306.6 234.8M329.3 203.6L327.0 200.4L324.6 196.0L319.7 194.2L316.4 193.3L305.8 188.4M380.1 274.0L382.8 279.6L387.2 283.1L384.8 287.4L378.2 291.8L373.4 295.9M387.2 283.1L390.3 286.6L394.4 284.8L400.4 282.6L402.0 281.2L404.1 275.1L405.9 270.1L409.4 267.2L411.9 263.9L415.9 261.4L420.6 256.7M405.8 260.9L409.3 256.8L414.1 254.2L415.7 253.3L418.9 253.8L420.6 256.7L425.4 259.5L427.3 260.3L426.4 266.9L429.6 266.8L435.5 269.1M394.1 246.3L395.8 256.6L395.8 256.6L405.9 254.9L416.0 253.0L426.1 251.0L436.1 248.9L438.3 247.1L439.2 247.3M394.1 246.3L391.6 231.3M404.7 255.1L405.8 260.9M436.1 248.9L440.0 262.7L445.6 261.6M445.0 266.7L441.7 268.3M439.2 247.3L443.8 242.2L439.0 238.6L438.8 233.9L441.1 228.6L436.6 224.0L434.1 222.8M441.1 228.6L448.7 231.1M434.1 222.8L425.1 224.7L416.0 226.6L406.9 228.3L397.8 229.9L397.3 226.9M442.3 185.9L443.7 191.4L445.7 201.4L447.0 201.7L449.1 210.5L449.1 218.7L450.8 227.1L449.8 229.6L450.7 230.6M449.1 210.7L465.0 206.7L468.4 204.1M449.2 218.9L463.0 215.4L466.5 214.8L468.0 217.7L469.9 219.9M463.1 215.5L464.7 223.6M456.7 182.1L456.7 185.2L456.1 189.4L455.2 195.5L454.1 199.3L455.0 206.1L455.7 209.1M459.1 178.1L465.0 196.4L468.7 201.3M271.4 171.8L273.0 172.6L271.1 174.2L268.4 175.4L267.2 174.6L269.1 173.1L271.4 171.8M122.6 234.1L119.6 236.5L120.0 241.2L124.1 245.4L126.2 242.8L124.2 239.6L125.4 237.5L122.6 234.1M416.2 397.2L418.3 398.0L418.8 400.8L417.6 402.7L414.9 402.0L414.4 399.2L416.2 397.2"/><path class="dk" d="M425.2 417.9L424.2 420.3L422.4 422.3L418.6 424.9L415.1 426.3L411.1 427.9M250.5 422.1L249.4 416.5L248.5 410.9L250.4 405.3L252.1 402.5L253.9 399.7L258.5 396.9L263.0 394.1M266.0 392.4L269.7 390.1L271.4 388.4L274.6 386.1M443.5 284.9L448.2 292.0L449.5 298.5L445.7 301.1L442.0 307.3M492.5 174.2L490.1 177.4L487.1 180.0L484.2 182.7L481.8 184.6L479.3 187.7L476.0 191.0L473.2 193.0M323.0 384.1L320.2 386.6L315.3 387.4L311.2 386.0M403.8 358.1L404.3 352.3L406.6 345.1L410.1 339.9L413.3 335.9M407.8 413.3L403.9 408.2L400.9 405.3L398.2 401.1L395.2 397.0L393.6 392.7M424.1 398.2L420.4 392.0L417.2 386.8L417.0 382.7L414.2 379.3M441.2 277.8L442.6 272.2L444.3 267.8L445.5 262.2M474.1 218.1L476.4 216.5L479.1 215.3L477.1 211.4L475.9 211.7L478.3 214.0M61.5 135.9L60.1 139.5L60.9 142.1L60.4 145.4M58.4 138.5L58.3 140.2M59.6 148.1L58.3 151.2L58.4 153.6L56.0 153.5M319.3 170.0L314.5 173.0M36.3 304.1L40.6 306.2L43.9 306.6M378.3 370.3L382.8 370.8L386.5 373.5L388.1 376.4L390.8 379.1L394.1 381.3M368.0 375.5L371.4 374.9L376.5 372.2M60.1 135.8L58.6 139.1M61.8 137.7L60.7 140.9L60.7 143.8M60.0 149.4L59.1 152.6"/><g fill="#484848"><circle cx="399.8" cy="428.8" r="1.2"/><circle cx="52.6" cy="315.7" r="1.6"/><circle cx="50.8" cy="320.0" r="1.3"/><circle cx="42.2" cy="315.0" r="1.1"/><circle cx="47.1" cy="313.6" r="0.7"/><circle cx="474.8" cy="220.3" r="1.2"/><circle cx="479.5" cy="219.8" r="1.0"/><circle cx="345.0" cy="195.7" r="1.0"/><circle cx="342.1" cy="202.9" r="0.8"/><circle cx="275.4" cy="180.7" r="1.2"/><circle cx="224.0" cy="176.8" r="0.8"/><circle cx="266.2" cy="197.8" r="0.5"/><circle cx="270.7" cy="186.2" r="0.5"/><circle cx="280.8" cy="178.6" r="0.6"/><circle cx="272.7" cy="192.0" r="0.5"/><circle cx="318.7" cy="195.8" r="0.5"/><circle cx="326.3" cy="203.3" r="0.5"/><circle cx="335.1" cy="184.4" r="0.5"/><circle cx="341.4" cy="189.4" r="0.5"/><circle cx="346.5" cy="203.3" r="0.6"/><circle cx="349.0" cy="209.6" r="0.5"/><circle cx="361.6" cy="214.7" r="0.5"/><circle cx="261.9" cy="203.3" r="0.5"/><circle cx="277.0" cy="186.2" r="0.5"/><circle cx="314.9" cy="207.1" r="0.5"/><circle cx="331.3" cy="195.8" r="0.5"/><circle cx="351.5" cy="195.8" r="0.5"/></g></g>
</g>
<text x="21.5" y="120" class="pl">A</text>
<text x="61.7" y="121.5" class="tt">Black to White Cancer Mortality Rate Ratio</text>
<text x="524" y="120" class="pl">B</text>
<text x="635.7" y="121.5" class="tt">Racial Bias in Mortgage Lending</text>
<rect x="102.5" y="443.5" width="59" height="23.5" fill="#ff0000" stroke="#777" stroke-width="0.6"/><rect x="161.5" y="443.5" width="59" height="23.5" fill="#ff5a00" stroke="#777" stroke-width="0.6"/><rect x="220.5" y="443.5" width="59" height="23.5" fill="#ffa500" stroke="#777" stroke-width="0.6"/><rect x="279.5" y="443.5" width="59" height="23.5" fill="#ffff00" stroke="#777" stroke-width="0.6"/><rect x="338.5" y="443.5" width="59" height="23.5" fill="#00a2e8" stroke="#777" stroke-width="0.6"/><text x="100.5" y="483" text-anchor="middle" class="lg">1.500</text><text x="159.5" y="483" text-anchor="middle" class="lg">1.263</text><text x="218.5" y="483" text-anchor="middle" class="lg">1.222</text><text x="277.5" y="483" text-anchor="middle" class="lg">1.166</text><text x="336.5" y="483" text-anchor="middle" class="lg">1.000</text><text x="395.5" y="483" text-anchor="middle" class="lg">0.856</text>
<rect x="471.5" y="443.5" width="60" height="23.5" fill="#a5dcf2"/>
<text x="502.5" y="483" text-anchor="middle" class="lg">Water Body</text>
<rect x="618.5" y="443.5" width="59" height="23.5" fill="#ff0000" stroke="#777" stroke-width="0.6"/><rect x="677.5" y="443.5" width="59" height="23.5" fill="#ff5a00" stroke="#777" stroke-width="0.6"/><rect x="736.5" y="443.5" width="59" height="23.5" fill="#ffa500" stroke="#777" stroke-width="0.6"/><rect x="795.5" y="443.5" width="59" height="23.5" fill="#ffff00" stroke="#777" stroke-width="0.6"/><rect x="854.5" y="443.5" width="59" height="23.5" fill="#00a2e8" stroke="#777" stroke-width="0.6"/><text x="616.5" y="483" text-anchor="middle" class="lg">4.94</text><text x="675.5" y="483" text-anchor="middle" class="lg">2.80</text><text x="734.5" y="483" text-anchor="middle" class="lg">2.31</text><text x="793.5" y="483" text-anchor="middle" class="lg">2.15</text><text x="852.5" y="483" text-anchor="middle" class="lg">1.88</text><text x="911.5" y="483" text-anchor="middle" class="lg">1.48</text>
</svg>
</body></html>
